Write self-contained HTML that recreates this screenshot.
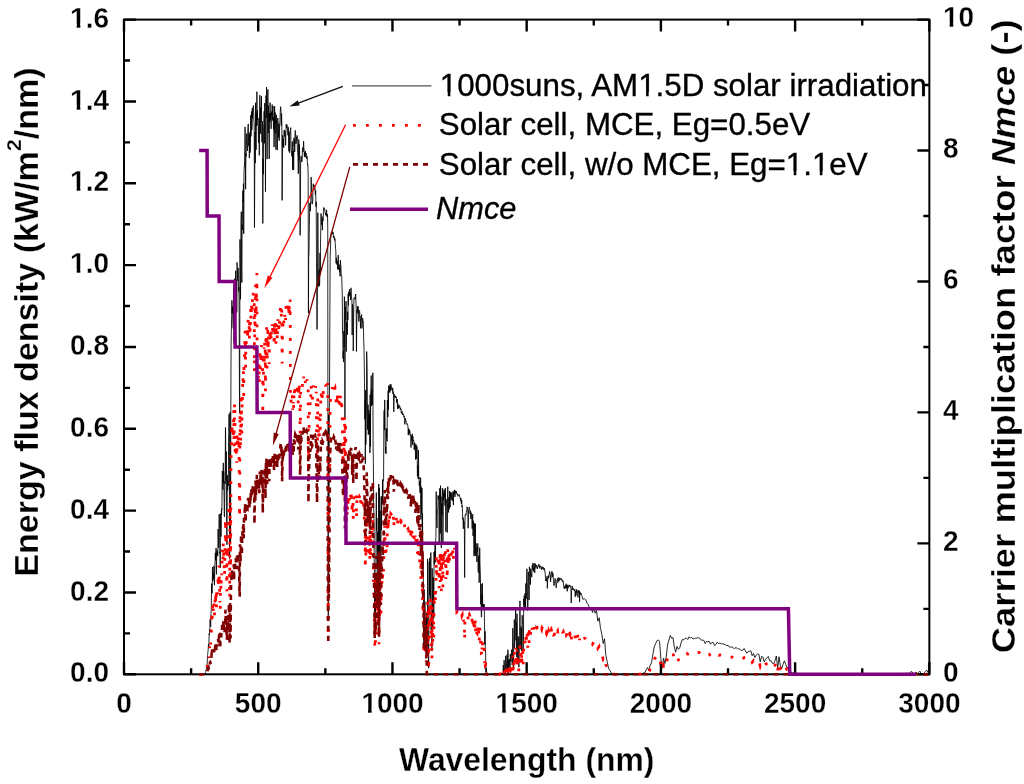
<!DOCTYPE html>
<html><head><meta charset="utf-8"><style>
html,body{margin:0;padding:0;background:#fff;}
svg{display:block;filter:blur(0.6px);}
text{font-family:"Liberation Sans",sans-serif;}
</style></head><body>
<svg width="1024" height="784" viewBox="0 0 1024 784">
<rect width="1024" height="784" fill="#fff"/>
<path d="M124.00 674.30V662.30 M124.00 19.60V31.60 M191.11 674.30V668.30 M191.11 19.60V25.60 M258.23 674.30V662.30 M258.23 19.60V31.60 M325.34 674.30V668.30 M325.34 19.60V25.60 M392.45 674.30V662.30 M392.45 19.60V31.60 M459.56 674.30V668.30 M459.56 19.60V25.60 M526.67 674.30V662.30 M526.67 19.60V31.60 M593.79 674.30V668.30 M593.79 19.60V25.60 M660.90 674.30V662.30 M660.90 19.60V31.60 M728.01 674.30V668.30 M728.01 19.60V25.60 M795.12 674.30V662.30 M795.12 19.60V31.60 M862.24 674.30V668.30 M862.24 19.60V25.60 M929.35 674.30V662.30 M929.35 19.60V31.60 M124.00 674.30H136.00 M124.00 633.38H130.00 M124.00 592.46H136.00 M124.00 551.54H130.00 M124.00 510.62H136.00 M124.00 469.70H130.00 M124.00 428.79H136.00 M124.00 387.87H130.00 M124.00 346.95H136.00 M124.00 306.03H130.00 M124.00 265.11H136.00 M124.00 224.19H130.00 M124.00 183.27H136.00 M124.00 142.35H130.00 M124.00 101.43H136.00 M124.00 60.51H130.00 M124.00 19.60H136.00 M929.35 674.30H917.35 M929.35 608.83H923.35 M929.35 543.36H917.35 M929.35 477.89H923.35 M929.35 412.42H917.35 M929.35 346.95H923.35 M929.35 281.48H917.35 M929.35 216.01H923.35 M929.35 150.54H917.35 M929.35 85.07H923.35 M929.35 19.60H917.35" stroke="#000" stroke-width="2.4" fill="none"/>
<rect x="124.00" y="19.60" width="805.35" height="654.70" fill="none" stroke="#000" stroke-width="2"/>
<polyline points="199.17,674.30 199.30,674.30 199.43,674.30 199.57,674.30 199.70,674.30 199.84,674.30 199.97,674.30 200.11,674.30 200.24,674.30 200.37,674.30 200.51,674.30 200.64,674.30 200.78,674.30 200.91,674.30 201.05,674.30 201.18,674.30 201.31,674.30 201.45,674.30 201.58,674.30 201.72,674.30 201.85,674.30 201.98,674.30 202.12,674.30 202.25,674.30 202.39,674.30 202.52,674.30 202.66,674.30 202.79,674.30 202.92,674.30 203.06,674.30 203.19,674.30 203.33,674.30 203.46,674.29 203.60,674.29 203.73,674.29 203.86,674.27 204.00,674.25 204.13,674.24 204.27,674.22 204.40,674.15 204.54,674.11 204.67,674.07 204.80,673.92 204.94,673.76 205.07,673.70 205.21,673.40 205.34,672.77 205.47,672.33 205.61,672.21 205.74,671.65 205.88,670.64 206.01,670.13 206.15,670.15 206.28,669.57 206.41,668.06 206.55,666.33 206.68,665.81 206.82,664.99 206.95,665.18 207.09,664.61 207.22,662.91 207.35,659.62 207.49,655.73 207.62,655.41 207.76,653.47 207.89,652.30 208.02,650.43 208.16,650.16 208.29,647.59 208.43,645.46 208.56,644.15 208.70,647.77 208.83,646.85 208.96,641.11 209.10,636.24 209.23,633.50 209.37,635.09 209.50,633.36 209.64,629.41 209.77,630.55 209.90,628.16 210.04,619.86 210.17,619.41 210.31,621.85 210.44,624.38 210.58,625.32 210.71,626.74 210.84,619.50 210.98,613.53 211.11,611.01 211.25,610.86 211.38,600.91 211.51,588.91 211.65,583.62 211.78,584.96 211.92,587.20 212.05,593.39 212.19,589.70 212.32,578.97 212.45,568.47 212.59,567.12 212.72,575.67 212.86,580.86 212.99,577.59 213.13,574.02 213.26,573.41 213.39,575.02 213.53,579.10 213.66,576.82 213.80,570.23 213.93,565.96 214.06,568.34 214.20,576.86 214.33,583.87 214.47,585.23 214.60,578.41 214.74,570.69 214.87,565.66 215.00,563.43 215.14,560.35 215.27,552.94 215.41,552.88 215.54,560.01 215.68,560.33 215.81,555.14 215.94,550.33 216.08,548.04 216.21,554.63 216.35,570.56 216.48,574.30 216.62,560.32 216.75,552.52 216.88,555.09 217.02,552.58 217.15,550.24 217.29,554.20 217.42,554.38 217.55,552.02 217.69,556.19 217.82,552.69 217.96,539.62 218.09,529.16 218.23,532.71 218.36,537.68 218.49,540.60 218.63,547.64 218.76,539.37 218.90,525.56 219.03,516.67 219.17,514.54 219.30,514.14 219.43,519.31 219.57,528.52 219.70,537.24 219.84,553.48 219.97,551.75 220.11,559.99 220.24,567.92 220.37,548.88 220.51,522.85 220.64,513.73 220.78,522.22 220.91,534.04 221.04,536.62 221.18,529.65 221.31,515.52 221.45,510.60 221.58,514.74 221.72,508.69 221.85,509.89 221.98,503.22 222.12,485.62 222.25,471.72 222.39,470.96 222.52,474.33 222.66,477.72 222.79,488.86 222.92,489.73 223.06,480.98 223.19,466.20 223.33,462.89 223.46,482.81 223.59,479.41 223.73,471.39 223.86,484.00 224.00,492.66 224.13,499.03 224.27,516.02 224.40,516.14 224.53,517.03 224.67,506.18 224.80,488.06 224.94,481.09 225.07,483.87 225.21,469.65 225.34,445.60 225.47,427.50 225.61,433.32 225.74,459.00 225.88,480.94 226.01,470.72 226.15,455.81 226.28,451.60 226.41,473.24 226.55,502.61 226.68,525.51 226.82,540.71 226.95,544.76 227.08,524.17 227.22,493.28 227.35,475.28 227.49,483.83 227.62,490.23 227.76,482.60 227.89,480.58 228.02,483.08 228.16,484.64 228.29,485.68 228.43,469.21 228.56,446.64 228.70,435.10 228.83,432.72 228.96,418.01 229.10,413.99 229.23,434.29 229.37,473.96 229.50,529.03 229.64,558.61 229.77,523.80 229.90,466.39 230.04,428.39 230.17,412.01 230.31,443.34 230.44,506.12 230.57,543.84 230.71,481.36 230.84,412.65 230.98,364.86 231.11,345.28 231.25,334.75 231.38,330.63 231.65,315.48 231.92,300.35 232.19,313.35 232.45,306.65 232.72,314.83 232.99,322.90 233.26,328.35 233.53,312.22 233.80,286.73 234.06,343.22 234.33,302.88 234.60,278.67 234.87,293.95 235.14,297.30 235.41,283.24 235.68,270.72 235.94,279.87 236.21,296.24 236.48,280.03 236.75,312.30 237.02,262.37 237.29,267.16 237.55,279.30 237.82,280.73 238.09,267.93 238.36,278.75 238.63,291.50 238.90,287.10 239.17,315.17 239.43,387.32 239.70,413.32 239.97,239.41 240.24,269.00 240.51,299.27 240.78,262.25 241.04,221.69 241.31,211.67 241.58,267.70 241.85,282.49 242.12,224.48 242.39,229.96 242.65,198.00 242.92,190.51 243.19,202.22 243.46,183.60 243.73,233.77 244.00,172.76 244.27,166.00 244.53,166.54 244.80,147.22 245.07,126.97 245.34,149.64 245.61,189.25 245.88,153.40 246.14,156.47 246.41,138.75 246.68,133.64 246.95,144.56 247.22,148.12 247.49,150.91 247.76,131.92 248.02,126.31 248.29,123.86 248.56,140.10 248.83,146.24 249.10,134.58 249.37,158.07 249.63,135.07 249.90,132.25 250.17,152.62 250.44,143.38 250.71,115.31 250.98,136.46 251.25,129.91 251.51,111.46 251.78,130.12 252.05,126.31 252.32,108.02 252.59,118.37 252.86,108.59 253.12,108.14 253.39,105.57 253.66,111.99 253.93,122.22 254.20,123.65 254.47,227.55 254.74,173.66 255.00,132.04 255.27,163.14 255.54,102.74 255.81,124.55 256.08,149.80 256.35,112.93 256.61,125.90 256.88,91.70 257.15,119.93 257.42,110.11 257.69,125.13 257.96,124.80 258.23,126.35 258.49,142.76 258.76,142.72 259.03,117.92 259.30,155.37 259.57,117.88 259.84,95.17 260.10,119.93 260.37,133.76 260.64,107.57 260.91,122.02 261.18,111.54 261.45,96.32 261.71,131.02 261.98,142.23 262.25,126.60 262.52,121.32 262.79,223.50 263.06,158.52 263.33,174.19 263.59,128.07 263.86,123.86 264.13,111.25 264.40,143.34 264.67,102.99 264.94,107.20 265.20,122.75 265.47,191.66 265.74,121.57 266.01,95.62 266.28,117.88 266.55,87.19 266.82,97.59 267.08,159.13 267.35,122.26 267.62,113.67 267.89,89.49 268.16,132.98 268.43,105.69 268.69,119.52 268.96,138.42 269.23,158.93 269.50,113.14 269.77,122.18 270.04,102.62 270.31,115.47 270.57,120.42 270.84,113.01 271.11,128.81 271.38,111.58 271.65,115.84 271.92,116.21 272.18,104.58 272.45,120.54 272.72,109.54 272.99,106.22 273.26,115.71 273.53,129.22 273.80,117.27 274.06,147.06 274.33,137.52 274.60,106.14 274.87,133.15 275.14,112.44 275.41,123.28 275.67,119.64 275.94,149.60 276.21,114.81 276.48,119.68 276.75,133.02 277.02,132.53 277.28,150.13 277.55,120.50 277.82,118.01 278.09,120.79 278.36,133.15 278.63,137.52 278.90,123.86 279.16,140.72 279.43,132.94 279.70,123.73 279.97,121.16 280.24,112.52 280.51,106.67 280.77,107.78 281.04,112.20 281.31,125.62 281.58,113.38 281.85,125.86 282.12,200.38 282.39,170.34 282.65,135.36 282.92,146.44 283.19,138.83 283.46,141.17 283.73,147.67 284.00,131.71 284.26,129.95 284.53,136.54 284.80,136.42 285.07,130.98 285.34,137.32 285.61,145.30 285.88,133.96 286.14,124.39 286.41,125.25 286.68,127.91 286.95,124.59 287.22,126.31 287.49,130.40 287.75,132.66 288.02,135.40 288.29,127.21 288.56,134.91 288.83,151.23 289.10,131.96 289.37,146.20 289.63,152.83 289.90,133.02 290.17,130.40 290.44,130.12 290.71,127.66 290.98,147.18 291.24,150.82 291.51,152.54 291.78,155.98 292.05,156.47 292.32,141.45 292.59,169.85 292.86,152.26 293.12,159.17 293.39,150.58 293.66,169.89 293.93,137.85 294.20,146.16 294.47,139.69 294.73,151.85 295.00,134.01 295.27,130.40 295.54,132.61 295.81,143.91 296.08,143.58 296.34,142.56 296.61,137.03 296.88,139.32 297.15,135.40 297.42,150.66 297.69,152.83 297.96,157.70 298.22,173.70 298.49,171.04 298.76,139.45 299.03,160.44 299.30,144.40 299.57,150.25 299.83,174.27 300.10,235.36 300.37,215.27 300.64,161.18 300.91,159.29 301.18,155.94 301.45,157.98 301.71,162.08 301.98,161.22 302.25,156.80 302.52,147.63 302.79,148.08 303.06,151.89 303.32,150.13 303.59,141.04 303.86,148.37 304.13,149.35 304.40,156.63 304.67,152.17 304.94,152.91 305.20,157.12 305.47,151.11 305.74,155.90 306.01,153.11 306.28,157.53 306.55,156.67 306.81,158.68 307.08,156.18 307.35,161.75 307.62,165.06 307.89,164.69 308.16,176.15 308.43,313.05 308.69,257.13 308.96,254.47 309.23,234.58 309.50,215.97 309.77,203.08 310.04,205.94 310.30,211.18 310.57,202.18 310.84,203.20 311.11,177.09 311.38,184.87 311.65,194.69 311.92,198.17 312.18,204.18 312.45,203.73 312.72,200.99 312.99,188.84 313.26,183.72 313.53,186.34 313.79,188.39 314.06,189.86 314.33,188.18 314.60,185.15 314.87,185.97 315.14,189.16 315.40,194.77 315.67,190.51 315.94,206.68 316.21,201.77 316.48,261.80 316.75,290.18 317.02,329.46 317.28,306.27 317.55,269.34 317.82,212.69 318.09,247.80 318.36,280.23 318.63,286.63 318.89,270.68 319.16,269.25 319.43,285.70 319.70,283.51 319.97,253.08 320.24,274.51 320.51,243.83 320.77,228.24 321.04,213.51 321.31,220.06 321.58,224.44 321.85,225.09 322.12,216.66 322.38,230.12 322.65,219.32 322.92,221.00 323.19,220.75 323.46,211.26 323.73,207.50 324.00,207.66 324.26,208.60 324.53,208.27 324.80,210.97 325.07,212.49 325.34,213.02 325.61,215.03 325.87,213.35 326.14,215.60 326.41,209.75 326.68,211.06 326.95,216.62 327.22,216.99 327.49,214.12 327.75,226.97 328.02,573.16 328.29,615.67 328.56,414.50 328.83,530.20 329.10,470.18 329.36,414.97 329.63,367.08 329.90,307.77 330.17,256.03 330.44,250.91 330.71,238.68 330.97,235.81 331.24,232.29 331.51,232.50 331.78,232.37 332.05,232.33 332.32,231.27 332.59,233.85 332.85,234.26 333.12,232.25 333.39,237.00 333.66,238.02 333.93,235.89 334.20,237.61 334.46,240.48 334.73,238.55 335.00,238.27 335.27,243.42 335.54,248.78 335.81,250.42 336.08,263.27 336.34,257.79 336.61,261.67 336.88,264.50 337.15,260.98 337.42,262.41 337.69,269.26 337.95,262.78 338.22,255.08 338.49,263.15 338.76,269.78 339.03,265.20 339.30,264.66 339.57,272.12 339.83,267.35 340.10,276.28 340.37,260.12 340.64,264.37 340.91,265.75 341.18,275.94 341.44,275.39 341.71,276.27 341.98,286.05 342.25,292.79 342.52,331.89 342.79,334.97 343.06,358.52 343.32,351.11 343.59,362.09 343.86,331.22 344.13,347.36 344.40,296.65 344.67,313.88 344.93,418.25 345.20,319.86 345.47,307.04 345.74,320.23 346.01,301.21 346.28,351.57 346.55,321.84 346.81,326.77 347.08,323.76 347.35,334.83 347.62,311.67 347.89,319.91 348.16,294.09 348.42,305.48 348.69,291.74 348.96,295.45 349.23,294.64 349.50,289.15 349.77,291.19 350.03,296.16 350.30,293.05 350.57,300.16 350.84,288.74 351.11,287.83 351.38,298.06 351.65,297.80 351.91,300.11 352.18,335.08 352.45,304.17 352.72,306.27 352.99,307.91 353.26,351.04 353.52,327.53 353.79,304.63 354.06,297.60 354.33,297.46 354.60,297.51 354.87,298.81 355.14,299.29 355.40,296.34 355.67,294.02 355.94,302.12 356.21,308.13 356.48,351.52 356.75,326.22 357.01,309.55 357.28,313.18 357.55,306.30 357.82,311.47 358.09,306.49 358.36,310.12 358.63,316.46 358.89,321.56 359.16,311.66 359.43,310.33 359.70,311.73 359.97,317.72 360.24,316.53 360.50,328.28 360.77,319.18 361.04,320.38 361.31,318.88 361.58,314.57 361.85,328.47 362.12,327.31 362.38,322.81 362.65,318.14 362.92,322.08 363.19,321.35 363.46,327.77 363.73,341.17 363.99,349.35 364.26,363.50 364.53,382.69 364.80,419.33 365.07,399.58 365.34,463.73 365.61,390.20 365.87,444.49 366.14,418.56 366.41,410.44 366.68,351.60 366.95,361.94 367.22,377.63 367.48,429.47 367.75,424.32 368.02,404.59 368.29,434.71 368.56,418.23 368.83,410.34 369.09,433.26 369.36,433.94 369.63,414.26 369.90,452.93 370.17,394.62 370.44,446.74 370.71,391.30 370.97,389.27 371.24,375.57 371.51,405.94 371.78,389.10 372.05,397.81 372.32,401.69 372.58,404.75 372.85,372.79 373.12,447.76 373.39,462.37 373.66,507.85 373.93,516.60 374.20,558.15 374.46,578.31 374.73,618.63 375.00,577.36 375.27,611.83 375.54,611.07 375.81,596.71 376.07,520.48 376.34,492.57 376.61,530.79 376.88,518.02 377.15,566.73 377.42,563.87 377.69,532.19 377.95,598.97 378.22,531.04 378.49,568.27 378.76,483.97 379.03,617.24 379.30,487.86 379.56,570.29 379.83,541.55 380.10,510.67 380.37,542.52 380.64,547.47 380.91,569.58 381.18,496.49 381.44,529.88 381.71,511.91 381.98,496.38 382.25,503.82 382.52,479.59 382.79,497.36 383.05,480.06 383.32,480.44 383.59,480.54 383.86,423.46 384.13,410.45 384.40,430.06 384.66,399.90 384.93,409.84 385.20,440.73 385.47,452.64 385.74,447.05 386.01,453.86 386.28,428.44 386.54,437.37 386.81,428.60 387.08,441.30 387.35,399.91 387.62,407.91 387.89,416.86 388.15,390.77 388.42,409.41 388.69,385.60 388.96,389.96 389.23,391.72 389.50,386.27 389.77,392.60 390.03,384.46 390.30,385.42 390.57,390.63 390.84,384.22 391.11,385.11 391.38,386.19 391.64,389.69 391.91,389.99 392.18,390.10 392.45,391.31 392.72,387.81 392.99,394.01 393.26,391.61 393.52,395.82 393.79,411.85 394.06,399.95 394.33,394.16 394.60,394.39 394.87,397.11 395.13,397.30 395.40,395.91 395.67,397.41 395.94,397.87 396.21,396.67 396.48,401.47 396.75,400.24 397.01,403.26 397.28,399.07 397.55,408.82 397.82,404.89 398.09,403.80 398.36,408.41 398.62,406.32 398.89,408.01 399.16,405.35 399.43,405.77 399.70,407.03 399.97,406.70 400.24,409.61 400.50,407.95 400.77,409.15 401.04,408.93 401.31,413.44 401.58,411.86 401.85,410.99 402.11,411.10 402.38,413.79 402.65,415.03 402.92,413.23 403.19,415.01 403.46,414.96 403.72,414.85 403.99,417.44 404.26,416.24 404.53,417.69 404.80,424.37 405.07,420.57 405.34,418.31 405.60,419.76 405.87,421.41 406.14,421.17 406.41,422.70 406.68,423.46 406.95,424.50 407.21,423.70 407.48,424.47 407.75,425.06 408.02,427.62 408.29,435.12 408.56,428.49 408.83,434.13 409.09,429.68 409.36,433.63 409.63,429.92 409.90,430.99 410.17,435.62 410.44,434.36 410.70,434.67 410.97,447.49 411.24,440.33 411.51,435.73 411.78,436.18 412.05,440.71 412.32,433.78 412.58,444.93 412.85,436.39 413.12,440.35 413.39,440.75 413.66,440.20 413.93,443.03 414.19,449.36 414.46,446.08 414.73,442.69 415.00,450.17 415.27,444.49 415.54,459.49 415.81,454.63 416.07,444.50 416.34,449.83 416.61,458.84 416.88,446.29 417.15,449.05 417.42,476.18 417.68,465.12 417.95,472.31 418.22,478.99 418.49,450.04 418.76,479.08 419.03,477.23 419.30,485.61 419.56,481.29 419.83,492.16 420.10,493.07 420.37,492.57 420.64,477.62 420.91,519.46 421.17,486.62 421.44,512.60 421.71,513.70 421.98,488.13 422.25,545.11 422.52,513.37 422.78,569.55 423.05,557.37 423.32,576.78 423.59,595.64 423.86,643.13 424.13,589.34 424.40,630.02 424.66,618.81 424.93,601.66 425.20,642.32 425.47,624.15 425.74,631.76 426.01,617.86 426.27,654.09 426.54,612.79 426.81,635.45 427.08,632.84 427.35,646.65 427.62,558.90 427.89,582.81 428.15,614.31 428.42,657.94 428.69,668.24 428.96,623.89 429.23,561.89 429.50,594.80 429.76,557.75 430.03,574.27 430.30,598.66 430.57,586.40 430.84,552.53 431.11,629.93 431.38,617.11 431.64,612.57 431.91,651.09 432.18,568.33 432.45,588.80 432.72,626.64 432.99,594.70 433.25,577.46 433.52,581.16 433.79,618.47 434.06,551.94 434.33,564.49 434.60,551.38 434.87,552.48 435.13,542.69 435.40,562.30 435.67,538.58 435.94,537.58 436.21,491.62 436.48,517.45 436.74,522.57 437.01,527.89 437.28,514.29 437.55,510.55 437.82,509.20 438.09,495.36 438.35,499.37 438.62,496.83 438.89,496.21 439.16,542.57 439.43,497.77 439.70,488.34 439.97,490.00 440.23,533.58 440.50,485.61 440.77,502.23 441.04,496.62 441.31,547.85 441.58,503.04 441.84,510.28 442.11,515.09 442.38,488.04 442.65,496.33 442.92,543.20 443.19,511.91 443.46,493.75 443.72,499.83 443.99,489.46 444.26,496.83 444.53,491.18 444.80,499.69 445.07,505.76 445.33,488.01 445.60,504.79 445.87,531.62 446.14,499.21 446.41,503.52 446.68,503.49 446.95,504.73 447.21,532.54 447.48,503.61 447.75,486.60 448.02,506.35 448.29,504.98 448.56,512.47 448.82,497.26 449.09,509.32 449.36,508.28 449.63,490.97 449.90,504.72 450.17,507.14 450.44,492.17 450.70,496.48 450.97,494.90 451.24,499.83 451.51,495.39 451.78,492.57 452.05,497.96 452.31,500.80 452.58,499.22 452.85,493.68 453.12,491.41 453.39,505.06 453.66,492.03 453.93,491.77 454.19,494.55 454.46,489.89 454.73,492.11 455.00,496.88 455.27,490.60 455.54,492.58 455.80,491.00 456.07,493.20 456.34,491.42 456.61,493.46 456.88,494.21 457.15,493.72 457.41,493.52 457.68,495.43 457.95,496.31 458.22,495.80 458.49,494.66 458.76,495.42 459.03,494.96 459.29,494.54 459.56,495.55 459.83,497.28 460.10,497.91 460.37,499.15 460.64,500.74 460.90,497.99 461.17,502.05 461.44,503.95 461.71,500.19 461.98,507.07 462.25,505.57 462.52,513.20 462.78,519.35 463.05,517.58 463.32,528.76 463.59,519.34 463.86,523.39 464.13,522.25 464.39,529.14 464.66,577.50 464.93,522.54 465.20,514.46 465.47,514.25 465.74,515.23 466.01,515.27 466.27,512.85 466.54,511.05 466.81,509.84 467.08,506.88 467.35,508.06 467.62,509.04 467.88,512.45 468.15,528.24 468.42,514.81 468.69,509.53 468.96,508.26 469.23,507.03 469.50,508.97 469.76,509.84 470.03,513.92 470.30,512.58 470.57,510.61 470.84,519.03 471.11,512.65 471.37,515.91 471.64,515.53 471.91,521.58 472.18,528.70 472.45,520.71 472.72,514.20 472.99,535.77 473.25,532.20 473.52,520.69 473.79,538.46 474.06,556.25 474.33,523.79 474.60,523.50 474.86,554.15 475.13,538.13 475.40,523.63 475.67,556.01 475.94,543.31 476.21,543.42 476.47,551.18 476.74,561.00 477.01,561.99 477.28,546.99 477.55,551.67 477.82,543.42 478.09,568.72 478.35,572.56 478.62,556.93 478.89,555.54 479.16,582.70 479.43,571.06 479.70,547.68 479.96,564.00 480.23,569.58 480.50,582.01 480.77,604.34 481.04,584.07 481.31,617.21 481.58,616.83 481.84,594.32 482.11,607.59 482.38,583.28 482.65,602.00 482.92,609.44 483.19,604.12 483.45,604.60 483.72,607.95 483.99,607.12 484.26,604.13 484.53,624.14 484.80,644.42 485.07,631.25 485.33,651.31 485.60,650.54 485.87,672.42 486.14,667.91 486.41,667.96 486.68,672.47 486.94,673.70 487.21,674.26 487.48,674.19 487.75,674.30 488.02,674.28 488.29,674.27 488.56,674.30 488.82,674.30 489.09,674.30 489.36,674.30 489.63,674.30 489.90,674.30 490.17,674.30 490.43,674.30 490.70,674.29 490.97,674.30 491.24,674.30 491.51,674.30 491.78,674.30 492.04,674.30 492.31,674.30 492.58,674.28 492.85,674.23 493.12,674.17 493.39,674.20 493.66,674.25 493.92,673.86 494.19,674.28 494.46,674.27 494.73,674.30 495.00,674.30 495.27,674.30 495.53,674.30 495.80,674.30 496.07,674.30 496.34,674.22 496.61,674.30 496.88,674.07 497.15,674.10 497.41,674.16 497.68,674.29 497.95,674.25 498.22,674.27 498.49,674.30 498.76,674.30 499.02,674.28 499.29,673.80 499.56,673.98 499.83,674.30 500.10,674.30 500.37,673.57 500.64,673.35 500.90,674.01 501.17,674.30 501.44,673.49 501.71,674.23 501.98,673.64 502.25,674.05 502.51,674.11 502.78,673.46 503.05,673.25 503.32,665.02 503.59,674.16 503.86,674.23 504.13,660.16 504.39,669.62 504.66,668.91 504.93,673.45 505.20,671.01 505.47,670.65 505.74,655.88 506.00,670.63 506.27,667.54 506.54,664.01 506.81,663.24 507.08,654.59 507.35,672.48 507.62,659.17 507.88,649.78 508.15,654.33 508.42,673.30 508.69,660.03 508.96,665.95 509.23,665.77 509.49,659.03 509.76,662.40 510.03,669.02 510.30,653.97 510.57,658.53 510.84,661.63 511.10,659.83 511.37,656.35 511.64,649.69 511.91,654.48 512.18,665.10 512.45,659.87 512.72,628.25 512.98,633.64 513.25,663.38 513.52,669.81 513.79,649.45 514.06,641.65 514.33,619.53 514.59,647.94 514.86,639.05 515.13,627.71 515.40,619.99 515.67,609.40 515.94,640.27 516.21,638.34 516.47,622.30 516.74,657.07 517.01,613.86 517.28,637.10 517.55,648.32 517.82,659.93 518.08,643.64 518.35,636.51 518.62,654.50 518.89,667.18 519.16,655.65 519.43,646.32 519.70,635.52 519.96,600.83 520.23,646.89 520.50,646.51 520.77,649.00 521.04,626.51 521.31,650.13 521.57,628.38 521.84,650.99 522.11,615.16 522.38,619.57 522.65,624.51 522.92,625.16 523.19,650.14 523.45,636.80 523.72,598.83 523.99,604.77 524.26,595.65 524.53,608.89 524.80,602.07 525.06,593.30 525.33,601.69 525.60,607.25 525.87,583.47 526.14,598.86 526.41,587.79 526.67,574.71 526.94,568.80 527.21,581.46 527.48,600.76 527.75,610.52 528.02,601.12 528.29,571.90 528.55,572.91 528.82,577.71 529.09,599.95 529.36,566.81 529.63,569.10 529.90,570.71 530.16,577.96 530.43,584.56 530.70,568.71 530.97,572.24 531.24,575.22 531.51,574.09 531.78,577.16 532.04,569.19 532.31,565.02 532.58,569.48 532.85,563.03 533.12,564.87 533.39,571.43 533.65,568.00 533.92,570.09 534.19,563.32 534.46,566.03 534.73,572.87 535.00,567.09 535.27,563.66 535.53,564.15 535.80,567.41 536.07,568.22 536.34,565.13 536.61,565.63 536.88,566.16 537.14,565.79 537.41,568.99 537.68,567.33 537.95,567.24 538.22,566.11 538.49,566.10 538.76,564.14 539.02,565.03 539.29,565.71 539.56,568.24 539.83,565.59 540.10,566.99 540.37,566.71 540.63,566.21 540.90,566.41 541.17,569.03 541.44,567.89 541.71,569.67 541.98,566.68 542.25,567.53 542.51,567.69 542.78,568.64 543.05,566.92 543.32,567.90 543.59,568.25 543.86,569.85 544.12,568.01 544.39,569.93 544.66,569.69 544.93,572.01 545.20,573.08 545.47,578.15 545.73,580.80 546.00,579.74 546.27,581.21 546.54,578.29 546.81,578.98 547.08,576.18 547.35,588.39 547.61,580.78 547.88,580.17 548.15,577.03 548.42,575.42 548.69,578.11 548.96,575.89 549.22,575.30 549.49,571.45 549.76,572.67 550.03,573.73 550.30,574.51 550.57,581.96 550.84,578.20 551.10,578.13 551.37,574.04 551.64,571.63 551.91,572.45 552.18,571.66 552.45,577.11 552.71,576.16 552.98,573.26 553.25,578.10 553.52,579.64 553.79,585.54 554.06,585.18 554.33,585.24 554.59,583.47 554.86,580.15 555.13,578.33 555.40,581.67 555.67,582.87 555.94,583.92 556.20,587.77 556.47,584.12 556.74,582.55 557.01,579.99 557.28,579.52 557.55,578.47 557.82,582.66 558.08,581.01 558.35,577.49 558.62,578.49 558.89,581.07 559.16,581.15 559.43,579.85 559.69,577.90 559.96,577.80 560.23,579.74 560.50,578.98 560.77,578.56 561.04,578.36 561.31,578.32 561.57,580.25 561.84,579.63 562.11,579.57 562.38,581.77 562.65,581.71 562.92,581.36 563.18,580.68 563.45,584.02 563.72,586.76 563.99,586.69 564.26,588.73 564.53,586.95 564.79,586.46 565.06,588.62 565.33,585.37 565.60,587.49 565.87,587.77 566.14,583.73 566.41,588.14 566.67,587.30 566.94,584.68 567.21,591.31 567.48,585.28 567.75,585.67 568.02,588.41 568.28,585.84 568.55,586.35 568.82,585.86 569.09,584.81 569.36,586.27 569.63,585.42 569.90,585.20 570.16,587.09 570.43,585.79 570.70,586.33 570.97,589.98 571.24,603.06 571.51,590.41 571.77,588.86 572.04,588.62 572.31,586.03 572.58,587.17 572.85,590.08 573.12,588.16 573.39,588.36 573.65,589.22 573.92,590.07 574.19,589.73 574.46,590.97 574.73,589.43 575.00,592.39 575.26,596.82 575.53,593.16 575.80,591.00 576.07,595.40 576.34,589.34 576.61,590.51 576.88,592.66 577.14,590.56 577.41,591.73 577.68,592.50 577.95,597.34 578.22,591.75 578.49,590.06 578.75,592.67 579.02,590.71 579.29,590.89 579.56,602.08 579.83,591.61 580.10,592.36 580.37,594.66 580.90,592.98 581.71,595.43 583.05,599.35 584.39,598.64 585.73,599.70 587.08,603.24 588.42,604.82 589.76,609.82 591.10,607.17 592.45,612.49 593.79,608.17 595.13,613.20 596.47,610.43 597.81,621.24 599.16,617.70 600.50,628.42 601.84,634.14 603.18,643.53 604.53,638.77 605.87,655.53 607.21,661.57 608.55,668.37 609.89,670.42 611.24,672.99 612.58,673.90 613.92,673.79 615.26,674.30 616.61,674.30 617.95,674.30 619.29,674.30 620.63,674.30 621.97,674.30 623.32,674.30 624.66,674.29 626.00,674.30 627.34,674.30 628.69,674.27 630.03,674.28 631.37,674.21 632.71,674.25 634.06,674.30 635.40,674.30 636.74,674.29 638.08,674.29 639.42,674.12 640.77,673.92 642.11,674.08 643.45,672.85 644.79,672.98 646.14,669.92 647.48,667.56 648.82,670.25 650.16,665.47 651.50,662.80 652.85,654.64 654.19,646.99 655.53,643.92 656.87,640.90 658.22,639.88 659.56,641.65 660.90,658.96 662.24,668.27 663.58,658.31 664.93,663.58 666.27,656.20 667.61,644.52 668.95,640.15 670.30,635.51 671.64,638.15 672.98,637.62 674.32,646.93 675.66,652.17 677.01,646.41 678.35,649.35 679.69,647.82 681.03,643.08 682.38,639.30 683.72,639.99 685.06,638.38 686.40,638.12 687.75,639.57 689.09,636.75 690.43,638.16 691.77,637.35 693.11,638.99 694.46,638.58 695.80,638.12 697.14,638.01 698.48,637.72 699.83,638.24 701.17,640.19 702.51,640.11 703.85,640.37 705.19,643.54 706.54,641.25 707.88,641.87 709.22,641.32 710.56,644.24 711.91,642.42 713.25,642.45 714.59,645.59 715.93,644.45 717.27,642.31 718.62,643.53 719.96,642.94 721.30,643.86 722.64,643.72 723.99,644.31 725.33,644.78 726.67,645.69 728.01,645.23 729.35,646.94 730.70,647.23 732.04,646.74 733.38,648.06 734.72,648.39 736.07,647.48 737.41,648.77 738.75,648.71 740.09,649.50 741.44,650.49 742.78,650.34 744.12,648.44 745.46,650.76 746.80,653.23 748.15,651.54 749.49,651.29 750.83,650.83 752.17,655.74 753.52,653.48 754.86,657.48 756.20,655.07 757.54,653.95 758.88,654.29 760.23,661.81 761.57,656.42 762.91,657.06 764.25,661.81 765.60,659.26 766.94,657.85 768.28,656.41 769.62,660.68 770.96,660.59 772.31,663.23 773.65,663.51 774.99,660.88 776.33,656.00 777.68,668.26 779.02,656.74 780.36,665.85 781.70,668.77 783.04,664.20 784.39,660.73 785.73,664.48 787.07,667.49 788.41,667.60 789.76,671.03 791.10,672.02 792.44,672.87 793.78,673.13 795.12,671.42 796.47,673.68 797.81,673.40 799.15,674.09 800.49,674.15 801.84,674.28 803.18,674.30 804.52,674.30 805.86,674.30 807.21,674.30 808.55,674.30 809.89,674.30 811.23,674.30 812.57,674.30 813.92,674.30 815.26,674.30 816.60,674.30 817.94,674.30 819.29,674.30 820.63,674.30 821.97,674.30 823.31,674.30 824.65,674.30 826.00,674.30 827.34,674.30 828.68,674.30 830.02,674.30 831.37,674.30 832.71,674.30 834.05,674.30 835.39,674.30 836.73,674.30 838.08,674.30 839.42,674.30 840.76,674.30 842.10,674.30 843.45,674.30 844.79,674.30 846.13,674.30 847.47,674.30 848.82,674.30 850.16,674.30 851.50,674.30 852.84,674.30 854.18,674.30 855.53,674.30 856.87,674.30 858.21,674.30 859.55,674.30 860.90,674.30 862.24,674.30 863.58,674.30 864.92,674.30 866.26,674.30 867.61,674.30 868.95,674.30 870.29,674.30 871.63,674.30 872.98,674.30 874.32,674.30 875.66,674.30 877.00,674.30 878.34,674.30 879.69,674.30 881.03,674.30 882.37,674.30 883.71,674.30 885.06,674.30 886.40,674.30 887.74,674.28 889.08,674.30 890.42,674.30 891.77,674.29 893.11,674.23 894.45,674.30 895.79,674.14 897.14,674.20 898.48,674.11 899.82,674.22 901.16,673.20 902.51,673.96 903.85,674.25 905.19,673.17 906.53,673.78 907.87,673.10 909.22,673.85 910.56,671.86 911.90,671.61 913.24,673.63 914.59,673.70 915.93,672.13 917.27,673.33 918.61,672.40 919.95,671.22 921.30,674.15 922.64,673.95 923.98,673.75 925.32,671.42 926.67,670.04 928.01,672.53 929.35,671.05" fill="none" stroke="#000" stroke-width="0.85" stroke-linejoin="miter"/>
<polyline points="199.17,674.30 199.30,674.30 199.43,674.30 199.57,674.30 199.70,674.30 199.84,674.30 199.97,674.30 200.11,674.30 200.24,674.30 200.37,674.30 200.51,674.30 200.64,674.30 200.78,674.30 200.91,674.30 201.05,674.30 201.18,674.30 201.31,674.30 201.45,674.30 201.58,674.30 201.72,674.30 201.85,674.30 201.98,674.30 202.12,674.30 202.25,674.30 202.39,674.30 202.52,674.30 202.66,674.30 202.79,674.30 202.92,674.30 203.06,674.30 203.19,674.30 203.33,674.30 203.46,674.30 203.60,674.29 203.73,674.29 203.86,674.28 204.00,674.27 204.13,674.26 204.27,674.24 204.40,674.20 204.54,674.18 204.67,674.14 204.80,674.05 204.94,673.94 205.07,673.90 205.21,673.70 205.34,673.27 205.47,672.97 205.61,672.89 205.74,672.51 205.88,671.82 206.01,671.47 206.15,671.47 206.28,671.07 206.41,670.04 206.55,668.85 206.68,668.48 206.82,667.91 206.95,668.02 207.09,667.63 207.22,667.42 207.35,665.42 207.49,663.05 207.62,662.84 207.76,661.64 207.89,660.91 208.02,659.75 208.16,659.56 208.29,657.97 208.43,656.63 208.56,655.80 208.70,658.00 208.83,657.40 208.96,653.84 209.10,650.80 209.23,649.07 209.37,650.02 209.50,648.90 209.64,646.41 209.77,647.07 209.90,645.54 210.04,640.31 210.17,639.98 210.31,641.46 210.44,642.99 210.58,643.53 210.71,644.38 210.84,639.77 210.98,635.95 211.11,634.30 211.25,634.14 211.38,627.77 211.51,620.08 211.65,616.63 211.78,617.39 211.92,618.74 212.05,622.61 212.19,620.17 212.32,613.21 212.45,606.38 212.59,605.41 212.72,610.81 212.86,614.06 212.99,611.85 213.13,609.45 213.26,608.96 213.39,609.90 213.53,612.46 213.66,610.88 213.80,606.49 213.93,603.60 214.06,605.06 214.20,610.53 214.33,615.03 214.47,615.83 214.60,611.26 214.74,606.09 214.87,602.67 215.00,601.09 215.14,598.95 215.27,593.93 215.41,593.77 215.54,598.38 215.68,598.49 215.81,594.92 215.94,591.60 216.08,589.94 216.21,594.23 216.35,604.79 216.48,607.20 216.62,597.71 216.75,592.35 216.88,593.96 217.02,592.15 217.15,590.45 217.29,593.01 217.42,593.01 217.55,591.29 217.69,594.01 217.82,591.51 217.96,582.49 218.09,575.21 218.23,577.50 218.36,580.76 218.49,582.63 218.63,587.33 218.76,581.52 218.90,571.88 219.03,565.61 219.17,579.74 219.30,579.38 219.43,582.31 219.57,587.65 219.70,592.72 219.84,602.29 219.97,601.15 220.11,605.98 220.24,610.63 220.37,599.13 220.51,583.40 220.64,577.79 220.78,582.76 220.91,589.76 221.04,591.20 221.18,586.88 221.31,578.20 221.45,575.09 221.58,577.47 221.72,573.66 221.85,574.25 221.98,570.04 222.12,559.16 222.25,550.51 222.39,549.88 222.52,551.77 222.66,553.69 222.79,560.36 222.92,560.75 223.06,555.20 223.19,545.92 223.33,543.70 223.46,555.85 223.59,553.58 223.73,548.45 223.86,556.11 224.00,561.34 224.13,565.15 224.27,575.60 224.40,575.54 224.53,575.96 224.67,569.04 224.80,557.54 224.94,553.01 225.07,554.60 225.21,545.49 225.34,530.16 225.47,518.55 225.61,522.02 225.74,538.07 225.88,551.79 226.01,545.14 226.15,535.50 226.28,532.64 226.41,546.24 226.55,564.80 226.68,579.28 226.82,588.87 226.95,591.36 227.08,578.05 227.22,558.09 227.35,546.37 227.49,551.71 227.62,555.68 227.76,550.60 227.89,549.13 228.02,550.59 228.16,551.44 228.29,551.96 228.43,541.10 228.56,526.25 228.70,518.55 228.83,516.80 228.96,506.99 229.10,504.15 229.23,517.22 229.37,543.01 229.50,578.98 229.64,598.30 229.77,575.30 229.90,537.36 230.04,512.13 230.17,501.10 230.31,521.60 230.44,562.97 230.57,587.83 230.71,546.26 230.84,500.43 230.98,468.42 231.11,455.12 231.25,447.83 231.38,444.78 231.65,434.07 231.92,423.32 232.19,431.44 232.45,426.32 232.72,431.24 232.99,436.10 233.26,439.22 233.53,427.65 233.80,409.64 234.06,447.67 234.33,419.43 234.60,402.16 234.87,412.04 235.14,457.15 235.41,448.51 235.68,440.72 235.94,445.46 236.21,454.43 236.48,444.46 236.75,462.77 237.02,433.01 237.29,435.26 237.55,441.84 237.82,442.13 238.09,434.01 238.36,439.86 238.63,446.88 238.90,443.73 239.17,459.95 239.43,502.61 239.70,517.80 239.97,412.91 240.24,430.13 240.51,447.84 240.78,424.92 241.04,399.75 241.31,393.02 241.58,426.52 241.85,434.99 242.12,398.93 242.39,401.67 242.65,381.40 242.92,376.12 243.19,382.68 243.46,370.49 243.73,400.94 244.00,362.38 244.27,357.48 244.53,357.10 244.80,344.30 245.07,330.86 245.34,344.35 245.61,368.59 245.88,345.27 246.14,346.49 246.41,334.53 246.68,330.53 246.95,336.74 247.22,338.28 247.49,339.33 247.76,326.42 248.02,322.06 248.29,319.72 248.56,329.44 248.83,332.67 249.10,324.37 249.37,338.88 249.63,323.19 249.90,320.60 250.17,333.17 250.44,326.38 250.71,307.21 250.98,320.35 251.25,315.29 251.51,302.33 251.78,313.91 252.05,310.63 252.32,297.70 252.59,303.81 252.86,296.51 253.12,295.42 253.39,292.90 253.66,296.43 253.93,302.53 254.20,302.73 254.47,372.22 254.74,335.08 255.00,306.13 255.27,326.53 255.54,284.65 255.81,298.75 256.08,315.27 256.35,289.25 256.61,297.38 256.88,273.06 257.15,368.25 257.42,362.20 257.69,369.89 257.96,369.10 258.23,369.36 258.49,377.90 258.76,377.28 259.03,362.81 259.30,383.19 259.57,361.54 259.84,348.13 260.10,361.46 260.37,368.66 260.64,353.23 260.91,360.79 261.18,354.22 261.45,344.92 261.71,364.09 261.98,369.90 262.25,360.35 262.52,356.71 262.79,414.89 263.06,376.92 263.33,385.40 263.59,358.15 263.86,355.10 264.13,347.16 264.40,365.21 264.67,341.09 264.94,342.92 265.20,351.39 265.47,391.20 265.74,349.46 266.01,333.57 266.28,346.06 266.55,327.30 266.82,332.80 267.08,368.67 267.35,346.19 267.62,340.46 267.89,325.40 268.16,350.75 268.43,333.81 268.69,341.47 268.96,352.21 269.23,363.96 269.50,335.77 269.77,340.61 270.04,328.15 270.31,335.31 270.57,337.69 270.84,332.57 271.11,341.58 271.38,330.44 271.65,332.42 271.92,332.03 272.18,324.27 272.45,333.45 272.72,326.05 272.99,323.37 273.26,328.62 273.53,336.37 273.80,328.34 274.06,346.25 274.33,339.72 274.60,319.53 274.87,335.79 275.14,322.21 275.41,328.40 275.67,325.49 275.94,343.74 276.21,321.21 276.48,323.67 276.75,331.50 277.02,330.58 277.28,341.16 277.55,321.72 277.82,319.51 278.09,320.67 278.36,327.96 278.63,330.17 278.90,320.79 279.16,331.02 279.43,325.42 279.70,318.87 279.97,316.59 280.24,310.38 280.51,305.96 280.77,306.05 281.04,308.30 281.31,316.42 281.58,307.82 281.85,315.36 282.12,363.60 282.39,343.35 282.65,319.78 282.92,326.48 283.19,320.87 283.46,321.82 283.73,325.53 284.00,314.36 284.26,312.59 284.53,316.37 284.80,315.69 285.07,311.45 285.34,315.09 285.61,319.84 285.88,311.64 286.14,304.61 286.41,304.57 286.68,305.76 286.95,302.91 287.22,303.46 287.49,305.62 287.75,306.55 288.02,307.81 288.29,301.63 288.56,306.27 288.83,316.83 289.10,303.06 289.37,312.21 289.63,316.18 289.90,301.98 290.17,299.57 290.44,392.65 290.71,390.92 290.98,400.60 291.24,402.05 291.51,402.51 291.78,403.87 292.05,403.69 292.32,395.40 292.59,409.84 292.86,400.18 293.12,403.39 293.39,398.43 293.66,408.18 293.93,390.83 294.20,394.78 294.47,390.91 294.73,396.92 295.00,386.99 295.27,384.63 295.54,385.35 295.81,390.93 296.08,390.31 296.34,389.32 296.61,385.91 296.88,386.70 297.15,384.13 297.42,391.92 297.69,392.65 297.96,394.85 298.22,403.09 298.49,401.22 298.76,383.64 299.03,394.62 299.30,385.44 299.57,388.20 299.83,400.89 300.10,433.93 300.37,422.54 300.64,392.45 300.91,390.98 301.18,388.70 301.45,389.40 301.71,391.23 301.98,390.33 302.25,387.45 302.52,381.93 302.79,381.74 303.06,383.42 303.32,382.00 303.59,376.49 303.86,380.14 304.13,380.25 304.40,383.90 304.67,380.96 304.94,380.94 305.20,382.88 305.47,379.06 305.74,381.32 306.01,379.32 306.28,381.39 306.55,380.47 306.81,381.18 307.08,379.32 307.35,382.06 307.62,383.53 307.89,382.89 308.16,389.03 308.43,467.12 308.69,434.71 308.96,432.83 309.23,421.02 309.50,409.92 309.77,402.09 310.04,403.35 310.30,405.99 310.57,400.39 310.84,400.59 311.11,385.00 311.38,389.12 311.65,394.44 311.92,396.07 312.18,399.19 312.45,398.54 312.72,396.54 312.99,389.00 313.26,385.58 313.53,386.72 313.79,387.52 314.06,387.98 314.33,386.59 314.60,384.38 314.87,384.46 315.14,385.95 315.40,388.88 315.67,385.95 315.94,395.19 316.21,391.86 316.48,427.40 316.75,444.07 317.02,467.32 317.28,453.10 317.55,430.56 317.82,396.08 318.09,416.89 318.36,436.13 318.63,439.67 318.89,429.69 319.16,428.48 319.43,438.14 319.70,436.48 319.97,417.61 320.24,430.34 320.51,411.26 320.77,401.36 321.04,391.96 321.31,395.59 321.58,397.90 321.85,397.93 322.12,392.36 322.38,400.29 322.65,393.24 322.92,393.90 323.19,393.37 323.46,387.10 323.73,384.38 324.00,384.09 324.26,384.29 324.53,383.69 324.80,384.99 325.07,385.55 325.34,385.50 325.61,386.37 325.87,384.93 326.14,385.96 326.41,381.90 326.68,382.33 326.95,385.46 327.22,385.31 327.49,383.12 327.75,390.87 328.02,610.14 328.29,637.05 328.56,509.04 328.83,582.51 329.10,544.11 329.36,508.69 329.63,477.85 329.90,439.62 330.17,406.14 330.44,402.51 330.71,394.29 330.97,392.08 331.24,389.45 331.51,389.21 331.78,388.76 332.05,388.37 332.32,387.31 332.59,388.61 332.85,388.51 333.12,386.84 333.39,389.56 333.66,389.86 333.93,388.11 334.20,388.86 334.46,390.38 334.73,388.75 335.00,388.20 335.27,391.22 335.54,394.39 335.81,395.11 336.08,403.23 336.34,399.27 336.61,401.49 336.88,403.02 337.15,400.34 337.42,400.95 337.69,405.16 337.95,400.50 338.22,395.04 338.49,400.06 338.76,404.15 339.03,400.75 339.30,400.05 339.57,404.70 339.83,401.17 340.10,406.83 340.37,395.62 340.64,398.14 340.91,398.73 341.18,405.27 341.44,404.57 341.71,404.83 341.98,411.13 342.25,415.38 342.52,441.62 342.79,443.44 343.06,459.20 343.32,453.87 343.59,461.11 343.86,439.74 344.13,450.50 344.40,415.47 344.67,426.98 344.93,498.38 345.20,430.50 345.47,421.37 345.74,430.16 346.01,502.59 346.28,525.59 346.55,511.69 346.81,513.77 347.08,512.19 347.35,517.12 347.62,506.19 347.89,509.81 348.16,497.62 348.42,502.70 348.69,496.10 348.96,497.62 349.23,497.03 349.50,494.25 349.77,494.99 350.03,497.11 350.30,495.44 350.57,498.56 350.84,492.98 351.11,492.34 351.38,496.95 351.65,496.62 351.91,497.50 352.18,513.83 352.45,499.01 352.72,499.79 352.99,500.37 353.26,520.66 353.52,509.30 353.79,498.19 354.06,494.64 354.33,494.36 354.60,494.18 354.87,494.59 355.14,494.61 355.40,492.99 355.67,491.66 355.94,495.34 356.21,498.03 356.48,518.74 356.75,506.35 357.01,498.10 357.28,499.66 357.55,496.12 357.82,498.42 358.09,495.81 358.36,497.37 358.63,500.25 358.89,502.53 359.16,497.51 359.43,496.66 359.70,497.14 359.97,499.86 360.24,499.08 360.50,504.65 360.77,499.99 361.04,500.38 361.31,499.45 361.58,497.12 361.85,503.78 362.12,503.01 362.38,500.60 362.65,498.09 362.92,499.84 363.19,499.29 363.46,502.27 363.73,508.74 363.99,512.63 364.26,519.49 364.53,528.89 364.80,547.02 365.07,537.01 365.34,568.95 365.61,532.00 365.87,559.07 366.14,545.92 366.41,541.70 366.68,511.95 366.95,516.98 367.22,524.72 367.48,550.72 367.75,547.98 368.02,537.86 368.29,552.96 368.56,544.47 368.83,540.33 369.09,551.83 369.36,552.04 369.63,541.88 369.90,561.45 370.17,531.57 370.44,558.04 370.71,529.56 370.97,528.36 371.24,521.19 371.51,536.60 371.78,527.80 372.05,532.12 372.32,533.97 372.58,535.39 372.85,518.75 373.12,557.30 373.39,564.73 373.66,588.15 373.93,592.59 374.20,614.05 374.46,624.46 374.73,645.37 375.00,623.86 375.27,641.76 375.54,641.33 375.81,633.80 376.07,593.92 376.34,579.23 376.61,599.15 376.88,592.37 377.15,617.85 377.42,616.29 377.69,599.56 377.95,634.64 378.22,598.80 378.49,618.36 378.76,573.78 379.03,644.13 379.30,575.63 379.56,619.20 379.83,603.89 380.10,587.43 380.37,604.26 380.64,606.82 380.91,618.53 381.18,579.50 381.44,597.22 381.71,587.54 381.98,579.15 382.25,583.03 382.52,569.95 382.79,579.37 383.05,569.99 383.32,570.08 383.59,570.02 383.86,539.17 384.13,532.02 384.40,542.45 384.66,526.02 384.93,531.25 385.20,547.82 385.47,554.15 385.74,550.99 386.01,554.56 386.28,540.62 386.54,545.34 386.81,540.43 387.08,547.23 387.35,524.49 387.62,528.72 387.89,533.46 388.15,519.03 388.42,529.10 388.69,515.88 388.96,518.11 389.23,518.92 389.50,515.77 389.77,519.10 390.03,514.45 390.30,514.82 390.57,517.54 390.84,513.83 391.11,514.17 391.38,514.60 391.64,516.38 391.91,516.39 392.18,516.29 392.45,516.81 392.72,514.70 392.99,518.00 393.26,516.50 393.52,518.70 393.79,527.51 394.06,520.70 394.33,517.30 394.60,517.27 394.87,518.65 395.13,518.60 395.40,517.67 395.67,518.36 395.94,518.46 396.21,517.63 396.48,520.19 396.75,519.34 397.01,520.90 397.28,518.37 397.55,523.75 397.82,521.37 398.09,520.60 398.36,523.07 398.62,521.73 398.89,522.55 399.16,520.88 399.43,520.97 399.70,521.54 399.97,521.20 400.24,522.72 400.50,521.62 400.77,522.16 401.04,521.89 401.31,524.33 401.58,523.28 401.85,522.64 402.11,522.55 402.38,523.96 402.65,524.53 402.92,523.34 403.19,524.23 403.46,524.05 403.72,523.85 403.99,525.20 404.26,524.36 404.53,525.06 404.80,528.81 405.07,526.46 405.34,525.00 405.60,525.70 405.87,526.53 406.14,526.24 406.41,527.00 406.68,527.30 406.95,527.77 407.21,527.17 407.48,527.48 407.75,527.69 408.02,529.05 408.29,533.34 408.56,529.29 408.83,532.49 409.09,529.72 409.36,531.93 409.63,529.59 409.90,530.09 410.17,532.70 410.44,531.82 410.70,531.87 410.97,539.37 411.24,534.98 411.51,532.10 411.78,532.24 412.05,534.81 412.32,530.54 412.58,537.08 412.85,531.84 413.12,534.07 413.39,534.19 413.66,533.73 413.93,535.30 414.19,538.97 414.46,536.88 414.73,534.70 415.00,539.09 415.27,535.53 415.54,544.47 415.81,541.41 416.07,535.16 416.34,538.26 416.61,543.60 416.88,535.86 417.15,537.41 417.42,553.79 417.68,546.94 417.95,551.21 418.22,555.17 418.49,537.39 418.76,555.01 419.03,553.77 419.30,558.79 419.56,556.04 419.83,562.59 420.10,563.05 420.37,562.65 420.64,553.35 420.91,579.00 421.17,558.68 421.44,574.59 421.71,575.18 421.98,559.30 422.25,594.42 422.52,574.71 422.78,609.42 423.05,601.81 423.32,613.79 423.59,625.45 423.86,654.93 424.13,621.44 424.40,646.73 424.66,639.71 424.93,628.98 425.20,654.33 425.47,642.96 425.74,647.69 426.01,638.96 426.27,661.63 426.54,635.72 426.81,649.91 427.08,648.25 427.35,656.91 427.62,601.67 427.89,616.66 428.15,636.47 428.42,663.97 428.69,670.47 428.96,642.43 429.23,603.17 429.50,623.95 429.76,600.42 430.03,610.83 430.30,626.27 430.57,618.44 430.84,596.84 431.11,646.05 431.38,637.86 431.64,634.93 431.91,659.49 432.18,606.60 432.45,619.63 432.72,643.80 432.99,623.31 433.25,612.22 433.52,614.53 433.79,638.45 434.06,595.65 434.33,603.65 434.60,595.15 434.87,595.80 435.13,589.41 435.40,602.00 435.67,586.61 435.94,585.89 436.21,556.06 436.48,572.69 436.74,575.93 437.01,579.29 437.28,570.38 437.55,567.86 437.82,566.89 438.09,557.78 438.35,560.30 438.62,558.55 438.89,558.04 439.16,588.23 439.43,558.86 439.70,552.59 439.97,553.58 440.23,582.04 440.50,550.49 440.77,561.30 441.04,557.52 441.31,591.12 441.58,561.55 441.84,566.23 442.11,569.31 442.38,551.36 442.65,556.73 442.92,587.62 443.19,566.85 443.46,554.73 443.72,558.66 443.99,551.68 444.26,556.47 444.53,552.62 444.80,558.18 445.07,562.12 445.33,550.20 445.60,561.28 445.87,579.09 446.14,557.37 446.41,560.16 446.68,560.04 446.95,560.77 447.21,579.31 447.48,559.83 447.75,548.32 448.02,561.49 448.29,560.47 448.56,565.42 448.82,555.08 449.09,563.11 449.36,562.32 449.63,550.54 449.90,559.73 450.17,561.27 450.44,551.05 450.70,553.86 450.97,552.70 451.24,555.94 451.51,552.82 451.78,550.81 452.05,554.37 452.31,556.21 452.58,555.04 452.85,551.16 453.12,549.51 453.39,558.73 453.66,549.73 453.93,549.45 454.19,551.26 454.46,547.96 454.73,549.38 455.00,552.56 455.27,548.15 455.54,549.40 455.80,548.22 456.07,549.62 456.34,548.30 456.61,549.61 456.88,612.16 457.15,611.94 457.41,611.82 457.68,612.43 457.95,612.69 458.22,612.46 458.49,612.02 458.76,612.23 459.03,612.02 459.29,611.83 459.56,612.13 459.83,612.68 460.10,612.85 460.37,613.23 460.64,613.74 460.90,612.73 461.17,614.10 461.44,614.72 461.71,613.35 461.98,615.71 462.25,615.14 462.52,617.77 462.78,619.89 463.05,619.22 463.32,623.11 463.59,619.75 463.86,621.14 464.13,620.69 464.39,623.08 464.66,640.12 464.93,620.67 465.20,617.77 465.47,617.65 465.74,617.95 466.01,617.92 466.27,617.02 466.54,616.34 466.81,615.86 467.08,614.76 467.35,615.14 467.62,615.44 467.88,616.61 468.15,622.20 468.42,617.36 468.69,615.43 468.96,614.93 469.23,614.44 469.50,615.09 469.76,615.36 470.03,616.78 470.30,616.25 470.57,615.50 470.84,618.48 471.11,616.14 471.37,617.27 471.64,617.09 471.91,619.23 472.18,621.75 472.45,618.82 472.72,616.43 472.99,624.19 473.25,622.86 473.52,618.65 473.79,625.05 474.06,631.47 474.33,619.64 474.60,619.50 474.86,630.60 475.13,624.74 475.40,619.42 475.67,631.18 475.94,626.51 476.21,626.52 476.47,629.32 476.74,632.87 477.01,633.20 477.28,627.68 477.55,629.36 477.82,626.30 478.09,635.55 478.35,636.93 478.62,631.16 478.89,630.61 479.16,640.58 479.43,636.26 479.70,627.62 479.96,633.60 480.23,635.63 480.50,640.19 480.77,648.43 481.04,640.91 481.31,653.16 481.58,653.00 481.84,644.64 482.11,649.54 482.38,640.49 482.65,647.42 482.92,650.17 483.19,648.17 483.45,648.33 483.72,649.56 483.99,649.23 484.26,648.10 484.53,655.55 484.80,663.13 485.07,658.19 485.33,665.69 485.60,665.40 485.87,673.60 486.14,671.90 486.41,671.92 486.68,673.61 486.94,674.07 487.21,674.29 487.48,674.26 487.75,674.30 488.02,674.29 488.29,674.29 488.56,674.30 488.82,674.30 489.09,674.30 489.36,674.30 489.63,674.30 489.90,674.30 490.17,674.30 490.43,674.30 490.70,674.30 490.97,674.30 491.24,674.30 491.51,674.30 491.78,674.30 492.04,674.30 492.31,674.30 492.58,674.29 492.85,674.27 493.12,674.25 493.39,674.26 493.66,674.28 493.92,674.13 494.19,674.29 494.46,674.29 494.73,674.30 495.00,674.30 495.27,674.30 495.53,674.30 495.80,674.30 496.07,674.30 496.34,674.27 496.61,674.30 496.88,674.21 497.15,674.22 497.41,674.25 497.68,674.30 497.95,674.28 498.22,674.29 498.49,674.30 498.76,674.30 499.02,674.29 499.29,674.10 499.56,674.17 499.83,674.30 500.10,674.30 500.37,674.02 500.64,673.93 500.90,674.19 501.17,674.30 501.44,673.98 501.71,674.27 501.98,674.04 502.25,674.20 502.51,674.23 502.78,673.97 503.05,673.89 503.32,670.65 503.59,674.24 503.86,674.27 504.13,668.73 504.39,672.46 504.66,672.17 504.93,673.96 505.20,673.00 505.47,672.86 505.74,667.01 506.00,672.85 506.27,671.62 506.54,670.22 506.81,669.91 507.08,666.47 507.35,673.58 507.62,668.28 507.88,664.54 508.15,666.35 508.42,673.90 508.69,668.61 508.96,670.97 509.23,670.89 509.49,668.20 509.76,669.54 510.03,672.19 510.30,666.16 510.57,667.98 510.84,669.22 511.10,668.49 511.37,667.09 511.64,664.41 511.91,666.33 512.18,670.60 512.45,668.49 512.72,655.75 512.98,657.90 513.25,669.89 513.52,672.49 513.79,664.26 514.06,661.10 514.33,652.14 514.59,663.63 514.86,660.02 515.13,655.41 515.40,652.27 515.67,647.95 515.94,660.48 516.21,659.68 516.47,653.15 516.74,667.29 517.01,649.68 517.28,659.14 517.55,663.70 517.82,668.43 518.08,661.78 518.35,658.85 518.62,666.20 518.89,671.39 519.16,666.66 519.43,662.83 519.70,658.40 519.96,644.15 520.23,663.04 520.50,662.88 520.77,663.90 521.04,654.63 521.31,664.35 521.57,655.38 521.84,664.69 522.11,649.89 522.38,651.70 522.65,653.73 522.92,653.98 523.19,664.30 523.45,658.77 523.72,643.03 523.99,645.47 524.26,641.67 524.53,647.14 524.80,644.29 525.06,640.63 525.33,644.09 525.60,646.39 525.87,636.46 526.14,642.85 526.41,638.22 526.67,632.73 526.94,630.24 527.21,635.50 527.48,643.54 527.75,647.61 528.02,643.65 528.29,631.39 528.55,631.78 528.82,633.77 529.09,643.08 529.36,629.14 529.63,630.07 529.90,630.72 530.16,633.74 530.43,636.50 530.70,629.79 530.97,631.24 531.24,632.48 531.51,631.97 531.78,633.24 532.04,629.84 532.31,628.05 532.58,629.91 532.85,627.15 533.12,627.89 533.39,630.65 533.65,629.16 533.92,630.02 534.19,627.11 534.46,628.23 534.73,631.12 535.00,628.63 535.27,627.13 535.53,627.31 535.80,628.67 536.07,628.99 536.34,627.64 536.61,627.82 536.88,628.02 537.14,627.83 537.41,629.17 537.68,628.43 537.95,628.36 538.22,627.85 538.49,627.81 538.76,626.94 539.02,627.29 539.29,627.56 539.56,628.61 539.83,627.44 540.10,628.01 540.37,627.87 540.63,627.62 540.90,627.68 541.17,628.78 541.44,628.26 541.71,629.00 541.98,627.67 542.25,628.01 542.51,628.05 542.78,628.44 543.05,627.66 543.32,628.05 543.59,628.18 543.86,628.85 544.12,628.01 544.39,628.82 544.66,628.68 544.93,629.67 545.20,630.11 545.47,632.30 545.73,633.43 546.00,632.94 546.27,633.55 546.54,632.25 546.81,632.53 547.08,631.27 547.35,636.60 547.61,633.24 547.88,632.94 548.15,631.53 548.42,630.80 548.69,631.96 548.96,630.95 549.22,630.66 549.49,628.94 549.76,629.45 550.03,629.89 550.30,630.20 550.57,633.47 550.84,631.78 551.10,631.72 551.37,629.89 551.64,628.79 551.91,629.13 552.18,628.75 552.45,631.14 552.71,630.69 552.98,629.37 553.25,631.49 553.52,632.16 553.79,634.76 554.06,634.57 554.33,634.57 554.59,633.76 554.86,632.25 555.13,631.41 555.40,632.88 555.67,633.39 555.94,633.83 556.20,635.54 556.47,633.87 556.74,633.15 557.01,631.97 557.28,631.73 557.55,631.23 557.82,633.09 558.08,632.33 558.35,630.71 558.62,631.14 558.89,632.28 559.16,632.28 559.43,631.67 559.69,630.76 559.96,630.69 560.23,631.54 560.50,631.17 560.77,630.95 561.04,630.84 561.31,630.79 561.57,631.64 561.84,631.33 562.11,631.28 562.38,632.25 562.65,632.20 562.92,632.02 563.18,631.68 563.45,633.17 563.72,634.40 563.99,634.34 564.26,635.25 564.53,634.41 564.79,634.17 565.06,635.13 565.33,633.62 565.60,634.56 565.87,634.67 566.14,632.79 566.41,634.79 566.67,634.38 566.94,633.15 567.21,636.17 567.48,633.38 567.75,633.53 568.02,634.77 568.28,633.56 568.55,633.77 568.82,633.52 569.09,633.01 569.36,633.66 569.63,633.24 569.90,633.12 570.16,633.97 570.43,633.34 570.70,633.57 570.97,635.23 571.24,641.27 571.51,635.39 571.77,634.64 572.04,634.51 572.31,633.28 572.58,633.79 572.85,635.12 573.12,634.20 573.39,634.27 573.65,634.64 573.92,635.02 574.19,634.84 574.46,635.39 574.73,634.65 575.00,636.01 575.26,638.06 575.53,636.32 575.80,635.29 576.07,637.33 576.34,634.46 576.61,634.99 576.88,635.98 577.14,634.97 577.41,635.50 577.68,635.83 577.95,638.09 578.22,635.43 578.49,634.61 578.75,635.82 579.02,634.88 579.29,634.94 579.56,640.20 579.83,635.23 580.10,635.56 580.37,636.62 580.90,635.79 581.71,636.88 583.05,638.64 584.39,638.19 585.73,638.60 587.08,640.19 588.42,640.85 589.76,643.17 591.10,641.80 592.45,644.29 593.79,642.10 595.13,644.46 596.47,643.02 597.81,648.24 599.16,646.43 600.50,651.64 601.84,654.41 603.18,659.02 604.53,656.60 605.87,664.93 607.21,667.92 608.55,671.32 609.89,672.35 611.24,673.64 612.58,674.10 613.92,674.04 615.26,674.30 616.61,674.30 617.95,674.30 619.29,674.30 620.63,674.30 621.97,674.30 623.32,674.30 624.66,674.30 626.00,674.30 627.34,674.30 628.69,674.28 630.03,674.29 631.37,674.25 632.71,674.27 634.06,674.30 635.40,674.30 636.74,674.30 638.08,674.30 639.42,674.20 640.77,674.10 642.11,674.18 643.45,673.52 644.79,673.59 646.14,671.93 647.48,670.64 648.82,672.10 650.16,669.49 651.50,668.01 652.85,663.52 654.19,659.29 655.53,657.56 656.87,655.85 658.22,655.24 659.56,656.18 660.90,665.76 662.24,670.93 663.58,665.36 664.93,668.29 666.27,664.12 667.61,657.52 668.95,655.01 670.30,652.33 671.64,653.78 672.98,653.43 674.32,658.69 675.66,661.64 677.01,658.31 678.35,659.97 679.69,659.05 681.03,656.27 682.38,654.04 683.72,654.39 685.06,653.41 686.40,653.21 687.75,654.01 689.09,652.30 690.43,653.08 691.77,652.55 693.11,653.47 694.46,653.18 695.80,652.86 697.14,652.74 698.48,652.52 699.83,652.78 701.17,653.89 702.51,653.80 703.85,653.91 705.19,655.77 706.54,654.34 707.88,654.67 709.22,654.29 710.56,656.02 711.91,654.87 713.25,654.85 714.59,656.72 715.93,655.99 717.27,654.63 718.62,655.34 719.96,654.93 721.30,655.45 722.64,655.33 723.99,655.65 725.33,655.90 726.67,656.43 728.01,656.10 729.35,657.13 730.70,657.28 732.04,656.93 733.38,657.72 734.72,657.90 736.07,657.28 737.41,658.07 738.75,657.99 740.09,658.46 741.44,659.06 742.78,658.94 744.12,657.68 745.46,659.14 746.80,660.70 748.15,659.57 749.49,659.38 750.83,659.05 752.17,662.21 753.52,660.72 754.86,663.30 756.20,661.70 757.54,660.94 758.88,661.13 760.23,666.07 761.57,662.48 762.91,662.88 764.25,666.01 765.60,664.30 766.94,663.34 768.28,662.35 769.62,665.19 770.96,665.11 772.31,666.86 773.65,667.04 774.99,665.24 776.33,661.93 777.68,670.21 779.02,662.37 780.36,668.55 781.70,670.53 783.04,667.40 784.39,665.01 785.73,667.56 787.07,669.62 788.41,669.69 789.76,674.30 791.10,674.30 792.44,674.30 793.78,674.30 795.12,674.30 796.47,674.30 797.81,674.30 799.15,674.30 800.49,674.30 801.84,674.30 803.18,674.30 804.52,674.30 805.86,674.30 807.21,674.30 808.55,674.30 809.89,674.30 811.23,674.30 812.57,674.30 813.92,674.30 815.26,674.30 816.60,674.30 817.94,674.30 819.29,674.30 820.63,674.30 821.97,674.30 823.31,674.30 824.65,674.30 826.00,674.30 827.34,674.30 828.68,674.30 830.02,674.30 831.37,674.30 832.71,674.30 834.05,674.30 835.39,674.30 836.73,674.30 838.08,674.30 839.42,674.30 840.76,674.30 842.10,674.30 843.45,674.30 844.79,674.30 846.13,674.30 847.47,674.30 848.82,674.30 850.16,674.30 851.50,674.30 852.84,674.30 854.18,674.30 855.53,674.30 856.87,674.30 858.21,674.30 859.55,674.30 860.90,674.30 862.24,674.30 863.58,674.30 864.92,674.30 866.26,674.30 867.61,674.30 868.95,674.30 870.29,674.30 871.63,674.30 872.98,674.30 874.32,674.30 875.66,674.30 877.00,674.30 878.34,674.30 879.69,674.30 881.03,674.30 882.37,674.30 883.71,674.30 885.06,674.30 886.40,674.30 887.74,674.30 889.08,674.30 890.42,674.30 891.77,674.30 893.11,674.30 894.45,674.30 895.79,674.30 897.14,674.30 898.48,674.30 899.82,674.30 901.16,674.30 902.51,674.30 903.85,674.30 905.19,674.30 906.53,674.30 907.87,674.30 909.22,674.30 910.56,674.30 911.90,674.30 913.24,674.30 914.59,674.30 915.93,674.30 917.27,674.30 918.61,674.30 919.95,674.30 921.30,674.30 922.64,674.30 923.98,674.30 925.32,674.30 926.67,674.30 928.01,674.30 929.35,674.30" fill="none" stroke="#ff0000" stroke-width="2.8" stroke-dasharray="2.8 10.2"/>
<polyline points="199.17,674.30 199.30,674.30 199.43,674.30 199.57,674.30 199.70,674.30 199.84,674.30 199.97,674.30 200.11,674.30 200.24,674.30 200.37,674.30 200.51,674.30 200.64,674.30 200.78,674.30 200.91,674.30 201.05,674.30 201.18,674.30 201.31,674.30 201.45,674.30 201.58,674.30 201.72,674.30 201.85,674.30 201.98,674.30 202.12,674.30 202.25,674.30 202.39,674.30 202.52,674.30 202.66,674.30 202.79,674.30 202.92,674.30 203.06,674.30 203.19,674.30 203.33,674.30 203.46,674.30 203.60,674.30 203.73,674.30 203.86,674.29 204.00,674.29 204.13,674.29 204.27,674.28 204.40,674.27 204.54,674.26 204.67,674.25 204.80,674.22 204.94,674.19 205.07,674.18 205.21,674.11 205.34,673.98 205.47,673.89 205.61,673.86 205.74,673.74 205.88,673.53 206.01,673.42 206.15,673.42 206.28,673.30 206.41,672.97 206.55,672.60 206.68,672.49 206.82,672.31 206.95,672.35 207.09,672.23 207.22,671.86 207.35,671.15 207.49,670.30 207.62,670.23 207.76,669.80 207.89,669.54 208.02,669.13 208.16,669.06 208.29,668.50 208.43,668.02 208.56,667.73 208.70,668.51 208.83,668.30 208.96,667.03 209.10,665.95 209.23,665.34 209.37,665.67 209.50,665.28 209.64,664.39 209.77,664.63 209.90,664.08 210.04,662.22 210.17,662.11 210.31,662.63 210.44,663.18 210.58,663.37 210.71,663.67 210.84,662.03 210.98,660.67 211.11,660.09 211.25,660.03 211.38,657.77 211.51,655.04 211.65,653.81 211.78,654.08 211.92,654.56 212.05,655.93 212.19,655.07 212.32,652.60 212.45,650.17 212.59,649.82 212.72,651.74 212.86,652.90 212.99,652.11 213.13,651.26 213.26,651.09 213.39,651.42 213.53,652.33 213.66,651.77 213.80,650.21 213.93,649.18 214.06,649.70 214.20,651.64 214.33,653.24 214.47,653.53 214.60,651.90 214.74,650.06 214.87,648.85 215.00,648.29 215.14,647.53 215.27,645.75 215.41,645.69 215.54,647.33 215.68,647.37 215.81,646.10 215.94,644.92 216.08,644.33 216.21,645.85 216.35,649.60 216.48,650.46 216.62,647.09 216.75,645.18 216.88,645.76 217.02,645.11 217.15,644.51 217.29,645.42 217.42,645.42 217.55,644.81 217.69,645.77 217.82,644.89 217.96,641.68 218.09,639.09 218.23,639.91 218.36,641.07 218.49,641.73 218.63,643.40 218.76,641.34 218.90,637.91 219.03,635.68 219.17,635.11 219.30,634.95 219.43,636.17 219.57,638.38 219.70,640.49 219.84,644.45 219.97,643.98 220.11,645.98 220.24,647.91 220.37,643.14 220.51,636.62 220.64,634.30 220.78,636.36 220.91,639.26 221.04,639.86 221.18,638.06 221.31,634.47 221.45,633.18 221.58,634.16 221.72,632.58 221.85,632.83 221.98,631.09 222.12,626.58 222.25,622.99 222.39,622.73 222.52,623.51 222.66,624.31 222.79,627.07 222.92,627.23 223.06,624.93 223.19,621.09 223.33,620.17 223.46,625.20 223.59,624.26 223.73,622.14 223.86,625.31 224.00,627.48 224.13,629.06 224.27,633.39 224.40,633.37 224.53,633.54 224.67,630.67 224.80,625.90 224.94,624.03 225.07,624.68 225.21,620.91 225.34,614.56 225.47,609.74 225.61,611.18 225.74,617.83 225.88,623.52 226.01,620.77 226.15,616.77 226.28,615.58 226.41,621.22 226.55,628.91 226.68,634.92 226.82,638.89 226.95,639.92 227.08,634.41 227.22,626.13 227.35,621.27 227.49,623.49 227.62,625.13 227.76,623.03 227.89,622.42 228.02,623.02 228.16,623.38 228.29,623.59 228.43,619.09 228.56,612.94 228.70,609.74 228.83,609.02 228.96,604.95 229.10,603.77 229.23,609.19 229.37,619.88 229.50,634.79 229.64,642.80 229.77,633.26 229.90,617.54 230.04,607.08 230.17,602.51 230.31,611.01 230.44,628.15 230.57,638.46 230.71,621.23 230.84,602.23 230.98,588.97 231.11,583.45 231.25,580.43 231.38,579.17 231.65,574.73 231.92,570.27 232.19,573.64 232.45,571.51 232.72,573.55 232.99,575.57 233.26,576.86 233.53,572.07 233.80,564.60 234.06,580.36 234.33,568.66 234.60,561.50 234.87,565.59 235.14,566.29 235.41,561.99 235.68,558.12 235.94,560.48 236.21,564.94 236.48,559.98 236.75,569.09 237.02,554.29 237.29,555.40 237.55,558.67 237.82,558.82 238.09,554.78 238.36,557.69 238.63,561.19 238.90,559.62 239.17,567.68 239.43,588.90 239.70,596.46 239.97,544.29 240.24,552.85 240.51,561.66 240.78,550.26 241.04,537.74 241.31,534.39 241.58,551.06 241.85,555.27 242.12,537.33 242.39,538.70 242.65,528.61 242.92,525.99 243.19,529.25 243.46,523.19 243.73,538.33 244.00,519.15 244.27,516.71 244.53,516.53 244.80,510.16 245.07,503.48 245.34,510.19 245.61,522.24 245.88,510.64 246.14,511.25 246.41,505.30 246.68,503.31 246.95,506.40 247.22,507.17 247.49,507.69 247.76,501.27 248.02,499.10 248.29,497.93 248.56,502.77 248.83,504.37 249.10,500.25 249.37,507.47 249.63,499.66 249.90,498.37 250.17,504.62 250.44,501.25 250.71,491.71 250.98,498.25 251.25,495.73 251.51,489.29 251.78,495.04 252.05,493.41 252.32,486.98 252.59,490.02 252.86,486.39 253.12,485.85 253.39,484.60 253.66,486.35 253.93,489.39 254.20,489.49 254.47,524.05 254.74,505.57 255.00,491.17 255.27,501.32 255.54,480.49 255.81,487.50 256.08,495.72 256.35,482.78 256.61,486.83 256.88,474.73 257.15,484.02 257.42,480.25 257.69,485.04 257.96,484.55 258.23,484.70 258.49,490.01 258.76,489.63 259.03,480.63 259.30,493.31 259.57,479.85 259.84,471.51 260.10,479.80 260.37,484.27 260.64,474.68 260.91,479.38 261.18,475.29 261.45,469.51 261.71,481.43 261.98,485.04 262.25,479.10 262.52,476.84 262.79,513.01 263.06,489.41 263.33,494.68 263.59,477.74 263.86,475.84 264.13,470.91 264.40,482.13 264.67,467.13 264.94,468.27 265.20,473.53 265.47,498.28 265.74,472.34 266.01,462.46 266.28,470.22 266.55,458.56 266.82,461.98 267.08,484.28 267.35,470.30 267.62,466.74 267.89,457.38 268.16,473.14 268.43,462.60 268.69,467.37 268.96,474.05 269.23,481.35 269.50,463.82 269.77,466.83 270.04,459.08 270.31,463.54 270.57,465.02 270.84,461.83 271.11,467.43 271.38,460.51 271.65,461.74 271.92,461.50 272.18,456.67 272.45,462.38 272.72,457.78 272.99,456.12 273.26,459.38 273.53,464.19 273.80,459.20 274.06,470.34 274.33,466.28 274.60,453.73 274.87,463.84 275.14,455.39 275.41,459.24 275.67,457.43 275.94,468.78 276.21,454.77 276.48,456.30 276.75,461.17 277.02,460.60 277.28,467.18 277.55,455.09 277.82,453.71 278.09,454.43 278.36,458.97 278.63,460.34 278.90,454.51 279.16,460.87 279.43,457.39 279.70,453.32 279.97,451.90 280.24,448.04 280.51,445.29 280.77,445.34 281.04,446.74 281.31,451.79 281.58,446.44 281.85,451.14 282.12,481.13 282.39,468.54 282.65,453.88 282.92,458.05 283.19,454.56 283.46,455.15 283.73,457.46 284.00,450.51 284.26,449.41 284.53,451.76 284.80,451.34 285.07,448.70 285.34,450.97 285.61,453.92 285.88,448.82 286.14,444.45 286.41,444.43 286.68,445.16 286.95,443.39 287.22,443.73 287.49,445.08 287.75,445.65 288.02,446.44 288.29,442.60 288.56,445.48 288.83,452.05 289.10,443.48 289.37,449.18 289.63,451.64 289.90,442.81 290.17,441.32 290.44,440.82 290.71,439.38 290.98,447.41 291.24,448.61 291.51,448.99 291.78,450.12 292.05,449.97 292.32,443.10 292.59,455.07 292.86,447.06 293.12,449.72 293.39,445.61 293.66,453.69 293.93,439.31 294.20,442.58 294.47,439.37 294.73,444.35 295.00,436.13 295.27,434.16 295.54,434.76 295.81,439.39 296.08,438.88 296.34,438.06 296.61,435.23 296.88,435.88 297.15,433.76 297.42,440.21 297.69,440.82 297.96,442.64 298.22,449.47 298.49,447.92 298.76,433.34 299.03,442.45 299.30,434.84 299.57,437.12 299.83,447.65 300.10,475.04 300.37,465.60 300.64,440.65 300.91,439.43 301.18,437.55 301.45,438.12 301.71,439.64 301.98,438.89 302.25,436.51 302.52,431.93 302.79,431.77 303.06,433.16 303.32,431.99 303.59,427.42 303.86,430.45 304.13,430.54 304.40,433.56 304.67,431.13 304.94,431.11 305.20,432.72 305.47,429.55 305.74,431.43 306.01,429.76 306.28,431.48 306.55,430.72 306.81,431.30 307.08,429.77 307.35,432.04 307.62,433.26 307.89,432.73 308.16,437.81 308.43,502.55 308.69,475.68 308.96,474.12 309.23,464.34 309.50,455.13 309.77,448.64 310.04,449.69 310.30,451.88 310.57,447.23 310.84,447.39 311.11,434.48 311.38,437.89 311.65,442.30 311.92,443.65 312.18,446.24 312.45,445.70 312.72,444.04 312.99,437.79 313.26,434.96 313.53,435.90 313.79,436.56 314.06,436.95 314.33,435.79 314.60,433.96 314.87,434.03 315.14,435.26 315.40,437.69 315.67,435.26 315.94,442.92 316.21,440.16 316.48,469.62 316.75,483.44 317.02,502.72 317.28,490.93 317.55,472.24 317.82,443.66 318.09,460.91 318.36,476.86 318.63,479.80 318.89,471.52 319.16,470.52 319.43,478.53 319.70,477.15 319.97,461.51 320.24,472.06 320.51,456.24 320.77,448.04 321.04,440.24 321.31,443.26 321.58,445.17 321.85,445.19 322.12,440.58 322.38,447.15 322.65,441.31 322.92,441.85 323.19,441.41 323.46,436.22 323.73,433.96 324.00,433.72 324.26,433.88 324.53,433.39 324.80,434.47 325.07,434.93 325.34,434.89 325.61,435.61 325.87,434.42 326.14,435.27 326.41,431.90 326.68,432.26 326.95,434.86 327.22,434.73 327.49,432.91 327.75,439.34 328.02,621.11 328.29,643.42 328.56,537.30 328.83,598.21 329.10,566.38 329.36,537.01 329.63,511.45 329.90,479.75 330.17,452.00 330.44,448.99 330.71,442.17 330.97,440.34 331.24,438.16 331.51,437.96 331.78,437.59 332.05,437.27 332.32,436.39 332.59,437.47 332.85,437.38 333.12,436.00 333.39,438.25 333.66,438.50 333.93,437.05 334.20,437.68 334.46,438.93 334.73,437.59 335.00,437.13 335.27,439.63 335.54,442.26 335.81,442.86 336.08,449.59 336.34,446.30 336.61,448.15 336.88,449.41 337.15,447.19 337.42,447.69 337.69,451.18 337.95,447.33 338.22,442.79 338.49,446.96 338.76,450.35 339.03,447.53 339.30,446.95 339.57,450.81 339.83,447.88 340.10,452.57 340.37,443.28 340.64,445.37 340.91,445.86 341.18,451.28 341.44,450.69 341.71,450.91 341.98,456.13 342.25,459.65 342.52,481.42 342.79,482.92 343.06,495.98 343.32,491.57 343.59,497.57 343.86,479.85 344.13,488.78 344.40,459.74 344.67,469.28 344.93,528.47 345.20,472.19 345.47,464.63 345.74,471.91 346.01,460.78 346.28,489.38 346.55,472.10 346.81,474.69 347.08,472.72 347.35,478.85 347.62,465.26 347.89,469.76 348.16,454.60 348.42,460.92 348.69,452.71 348.96,454.60 349.23,453.87 349.50,450.41 349.77,451.33 350.03,453.97 350.30,451.89 350.57,455.78 350.84,448.84 351.11,448.04 351.38,453.77 351.65,453.36 351.91,454.45 352.18,474.76 352.45,456.33 352.72,457.31 352.99,458.02 353.26,483.26 353.52,469.12 353.79,455.31 354.06,450.89 354.33,450.55 354.60,450.32 354.87,450.83 355.14,450.85 355.40,448.84 355.67,447.19 355.94,451.77 356.21,455.11 356.48,480.86 356.75,465.46 357.01,455.20 357.28,457.13 357.55,452.74 357.82,455.60 358.09,452.35 358.36,454.29 358.63,457.87 358.89,460.71 359.16,454.46 359.43,453.41 359.70,454.00 359.97,457.39 360.24,456.42 360.50,463.34 360.77,457.54 361.04,458.03 361.31,456.87 361.58,453.99 361.85,462.26 362.12,461.31 362.38,458.30 362.65,455.18 362.92,457.37 363.19,456.68 363.46,460.39 363.73,468.43 363.99,473.26 364.26,481.80 364.53,493.49 364.80,516.03 365.07,503.58 365.34,543.30 365.61,497.36 365.87,531.01 366.14,514.66 366.41,509.42 366.68,472.42 366.95,478.67 367.22,488.29 367.48,520.63 367.75,517.22 368.02,504.64 368.29,523.42 368.56,512.86 368.83,507.71 369.09,522.01 369.36,522.27 369.63,509.64 369.90,533.98 370.17,496.82 370.44,529.74 370.71,494.32 370.97,492.83 371.24,483.91 371.51,503.07 371.78,492.13 372.05,497.50 372.32,499.80 372.58,501.57 372.85,480.88 373.12,528.82 373.39,538.05 373.66,567.17 373.93,572.70 374.20,599.39 374.46,612.32 374.73,638.32 375.00,611.58 375.27,633.84 375.54,633.30 375.81,623.93 376.07,574.35 376.34,556.09 376.61,580.85 376.88,572.42 377.15,604.10 377.42,602.16 377.69,581.37 377.95,624.99 378.22,580.42 378.49,604.74 378.76,549.30 379.03,636.79 379.30,551.60 379.56,605.78 379.83,586.75 380.10,566.27 380.37,587.21 380.64,590.39 380.91,604.95 381.18,556.42 381.44,578.46 381.71,566.42 381.98,555.98 382.25,560.80 382.52,544.54 382.79,556.26 383.05,544.59 383.32,544.70 383.59,544.64 383.86,506.27 384.13,497.37 384.40,510.35 384.66,489.92 384.93,496.41 385.20,517.03 385.47,524.90 385.74,520.97 386.01,525.41 386.28,508.07 386.54,513.94 386.81,507.84 387.08,516.29 387.35,488.02 387.62,493.27 387.89,499.17 388.15,481.23 388.42,493.74 388.69,477.31 388.96,480.09 389.23,481.09 389.50,477.17 389.77,481.31 390.03,475.53 390.30,475.99 390.57,479.37 390.84,474.76 391.11,475.18 391.38,475.72 391.64,477.93 391.91,477.94 392.18,477.82 392.45,478.46 392.72,475.85 392.99,479.95 393.26,478.08 393.52,480.82 393.79,491.77 394.06,483.30 394.33,479.08 394.60,479.04 394.87,480.75 395.13,480.69 395.40,479.53 395.67,480.39 395.94,480.52 396.21,479.49 396.48,482.66 396.75,481.61 397.01,483.55 397.28,480.40 397.55,487.09 397.82,484.14 398.09,483.17 398.36,486.25 398.62,484.59 398.89,485.60 399.16,483.53 399.43,483.64 399.70,484.35 399.97,483.93 400.24,485.81 400.50,484.45 400.77,485.12 401.04,484.78 401.31,487.82 401.58,486.51 401.85,485.71 402.11,485.60 402.38,487.35 402.65,488.06 402.92,486.59 403.19,487.69 403.46,487.47 403.72,487.21 403.99,488.90 404.26,487.86 404.53,488.73 404.80,493.39 405.07,490.46 405.34,488.65 405.60,489.52 405.87,490.55 406.14,490.19 406.41,491.13 406.68,491.51 406.95,492.10 407.21,491.34 407.48,491.73 407.75,491.99 408.02,493.69 408.29,499.01 408.56,493.99 408.83,497.96 409.09,494.52 409.36,497.26 409.63,494.36 409.90,494.98 410.17,498.23 410.44,497.13 410.70,497.20 410.97,506.51 411.24,501.06 411.51,497.48 411.78,497.65 412.05,500.85 412.32,495.54 412.58,503.67 412.85,497.15 413.12,499.93 413.39,500.07 413.66,499.50 413.93,501.45 414.19,506.02 414.46,503.42 414.73,500.71 415.00,506.16 415.27,501.75 415.54,512.86 415.81,509.05 416.07,501.28 416.34,505.14 416.61,511.77 416.88,502.15 417.15,504.08 417.42,524.45 417.68,515.94 417.95,521.24 418.22,526.16 418.49,504.06 418.76,525.96 419.03,524.42 419.30,530.66 419.56,527.24 419.83,535.40 420.10,535.96 420.37,535.46 420.64,523.90 420.91,555.79 421.17,530.52 421.44,550.31 421.71,551.04 421.98,531.30 422.25,574.97 422.52,550.46 422.78,593.62 423.05,584.16 423.32,599.05 423.59,613.55 423.86,650.21 424.13,608.57 424.40,640.01 424.66,631.29 424.93,617.95 425.20,649.47 425.47,635.33 425.74,641.21 426.01,630.36 426.27,658.55 426.54,626.33 426.81,674.30 427.08,674.30 427.35,674.30 427.62,674.30 427.89,674.30 428.15,674.30 428.42,674.30 428.69,674.30 428.96,674.30 429.23,674.30 429.50,674.30 429.76,674.30 430.03,674.30 430.30,674.30 430.57,674.30 430.84,674.30 431.11,674.30 431.38,674.30 431.64,674.30 431.91,674.30 432.18,674.30 432.45,674.30 432.72,674.30 432.99,674.30 433.25,674.30 433.52,674.30 433.79,674.30 434.06,674.30 434.33,674.30 434.60,674.30 434.87,674.30 435.13,674.30 435.40,674.30 435.67,674.30 435.94,674.30 436.21,674.30 436.48,674.30 436.74,674.30 437.01,674.30 437.28,674.30 437.55,674.30 437.82,674.30 438.09,674.30 438.35,674.30 438.62,674.30 438.89,674.30 439.16,674.30 439.43,674.30 439.70,674.30 439.97,674.30 440.23,674.30 440.50,674.30 440.77,674.30 441.04,674.30 441.31,674.30 441.58,674.30 441.84,674.30 442.11,674.30 442.38,674.30 442.65,674.30 442.92,674.30 443.19,674.30 443.46,674.30 443.72,674.30 443.99,674.30 444.26,674.30 444.53,674.30 444.80,674.30 445.07,674.30 445.33,674.30 445.60,674.30 445.87,674.30 446.14,674.30 446.41,674.30 446.68,674.30 446.95,674.30 447.21,674.30 447.48,674.30 447.75,674.30 448.02,674.30 448.29,674.30 448.56,674.30 448.82,674.30 449.09,674.30 449.36,674.30 449.63,674.30 449.90,674.30 450.17,674.30 450.44,674.30 450.70,674.30 450.97,674.30 451.24,674.30 451.51,674.30 451.78,674.30 452.05,674.30 452.31,674.30 452.58,674.30 452.85,674.30 453.12,674.30 453.39,674.30 453.66,674.30 453.93,674.30 454.19,674.30 454.46,674.30 454.73,674.30 455.00,674.30 455.27,674.30 455.54,674.30 455.80,674.30 456.07,674.30 456.34,674.30 456.61,674.30 456.88,674.30 457.15,674.30 457.41,674.30 457.68,674.30 457.95,674.30 458.22,674.30 458.49,674.30 458.76,674.30 459.03,674.30 459.29,674.30 459.56,674.30 459.83,674.30 460.10,674.30 460.37,674.30 460.64,674.30 460.90,674.30 461.17,674.30 461.44,674.30 461.71,674.30 461.98,674.30 462.25,674.30 462.52,674.30 462.78,674.30 463.05,674.30 463.32,674.30 463.59,674.30 463.86,674.30 464.13,674.30 464.39,674.30 464.66,674.30 464.93,674.30 465.20,674.30 465.47,674.30 465.74,674.30 466.01,674.30 466.27,674.30 466.54,674.30 466.81,674.30 467.08,674.30 467.35,674.30 467.62,674.30 467.88,674.30 468.15,674.30 468.42,674.30 468.69,674.30 468.96,674.30 469.23,674.30 469.50,674.30 469.76,674.30 470.03,674.30 470.30,674.30 470.57,674.30 470.84,674.30 471.11,674.30 471.37,674.30 471.64,674.30 471.91,674.30 472.18,674.30 472.45,674.30 472.72,674.30 472.99,674.30 473.25,674.30 473.52,674.30 473.79,674.30 474.06,674.30 474.33,674.30 474.60,674.30 474.86,674.30 475.13,674.30 475.40,674.30 475.67,674.30 475.94,674.30 476.21,674.30 476.47,674.30 476.74,674.30 477.01,674.30 477.28,674.30 477.55,674.30 477.82,674.30 478.09,674.30 478.35,674.30 478.62,674.30 478.89,674.30 479.16,674.30 479.43,674.30 479.70,674.30 479.96,674.30 480.23,674.30 480.50,674.30 480.77,674.30 481.04,674.30 481.31,674.30 481.58,674.30 481.84,674.30 482.11,674.30 482.38,674.30 482.65,674.30 482.92,674.30 483.19,674.30 483.45,674.30 483.72,674.30 483.99,674.30 484.26,674.30 484.53,674.30 484.80,674.30 485.07,674.30 485.33,674.30 485.60,674.30 485.87,674.30 486.14,674.30 486.41,674.30 486.68,674.30 486.94,674.30 487.21,674.30 487.48,674.30 487.75,674.30 488.02,674.30 488.29,674.30 488.56,674.30 488.82,674.30 489.09,674.30 489.36,674.30 489.63,674.30 489.90,674.30 490.17,674.30 490.43,674.30 490.70,674.30 490.97,674.30 491.24,674.30 491.51,674.30 491.78,674.30 492.04,674.30 492.31,674.30 492.58,674.30 492.85,674.30 493.12,674.30 493.39,674.30 493.66,674.30 493.92,674.30 494.19,674.30 494.46,674.30 494.73,674.30 495.00,674.30 495.27,674.30 495.53,674.30 495.80,674.30 496.07,674.30 496.34,674.30 496.61,674.30 496.88,674.30 497.15,674.30 497.41,674.30 497.68,674.30 497.95,674.30 498.22,674.30 498.49,674.30 498.76,674.30 499.02,674.30 499.29,674.30 499.56,674.30 499.83,674.30 500.10,674.30 500.37,674.30 500.64,674.30 500.90,674.30 501.17,674.30 501.44,674.30 501.71,674.30 501.98,674.30 502.25,674.30 502.51,674.30 502.78,674.30 503.05,674.30 503.32,674.30 503.59,674.30 503.86,674.30 504.13,674.30 504.39,674.30 504.66,674.30 504.93,674.30 505.20,674.30 505.47,674.30 505.74,674.30 506.00,674.30 506.27,674.30 506.54,674.30 506.81,674.30 507.08,674.30 507.35,674.30 507.62,674.30 507.88,674.30 508.15,674.30 508.42,674.30 508.69,674.30 508.96,674.30 509.23,674.30 509.49,674.30 509.76,674.30 510.03,674.30 510.30,674.30 510.57,674.30 510.84,674.30 511.10,674.30 511.37,674.30 511.64,674.30 511.91,674.30 512.18,674.30 512.45,674.30 512.72,674.30 512.98,674.30 513.25,674.30 513.52,674.30 513.79,674.30 514.06,674.30 514.33,674.30 514.59,674.30 514.86,674.30 515.13,674.30 515.40,674.30 515.67,674.30 515.94,674.30 516.21,674.30 516.47,674.30 516.74,674.30 517.01,674.30 517.28,674.30 517.55,674.30 517.82,674.30 518.08,674.30 518.35,674.30 518.62,674.30 518.89,674.30 519.16,674.30 519.43,674.30 519.70,674.30 519.96,674.30 520.23,674.30 520.50,674.30 520.77,674.30 521.04,674.30 521.31,674.30 521.57,674.30 521.84,674.30 522.11,674.30 522.38,674.30 522.65,674.30 522.92,674.30 523.19,674.30 523.45,674.30 523.72,674.30 523.99,674.30 524.26,674.30 524.53,674.30 524.80,674.30 525.06,674.30 525.33,674.30 525.60,674.30 525.87,674.30 526.14,674.30 526.41,674.30 526.67,674.30 526.94,674.30 527.21,674.30 527.48,674.30 527.75,674.30 528.02,674.30 528.29,674.30 528.55,674.30 528.82,674.30 529.09,674.30 529.36,674.30 529.63,674.30 529.90,674.30 530.16,674.30 530.43,674.30 530.70,674.30 530.97,674.30 531.24,674.30 531.51,674.30 531.78,674.30 532.04,674.30 532.31,674.30 532.58,674.30 532.85,674.30 533.12,674.30 533.39,674.30 533.65,674.30 533.92,674.30 534.19,674.30 534.46,674.30 534.73,674.30 535.00,674.30 535.27,674.30 535.53,674.30 535.80,674.30 536.07,674.30 536.34,674.30 536.61,674.30 536.88,674.30 537.14,674.30 537.41,674.30 537.68,674.30 537.95,674.30 538.22,674.30 538.49,674.30 538.76,674.30 539.02,674.30 539.29,674.30 539.56,674.30 539.83,674.30 540.10,674.30 540.37,674.30 540.63,674.30 540.90,674.30 541.17,674.30 541.44,674.30 541.71,674.30 541.98,674.30 542.25,674.30 542.51,674.30 542.78,674.30 543.05,674.30 543.32,674.30 543.59,674.30 543.86,674.30 544.12,674.30 544.39,674.30 544.66,674.30 544.93,674.30 545.20,674.30 545.47,674.30 545.73,674.30 546.00,674.30 546.27,674.30 546.54,674.30 546.81,674.30 547.08,674.30 547.35,674.30 547.61,674.30 547.88,674.30 548.15,674.30 548.42,674.30 548.69,674.30 548.96,674.30 549.22,674.30 549.49,674.30 549.76,674.30 550.03,674.30 550.30,674.30 550.57,674.30 550.84,674.30 551.10,674.30 551.37,674.30 551.64,674.30 551.91,674.30 552.18,674.30 552.45,674.30 552.71,674.30 552.98,674.30 553.25,674.30 553.52,674.30 553.79,674.30 554.06,674.30 554.33,674.30 554.59,674.30 554.86,674.30 555.13,674.30 555.40,674.30 555.67,674.30 555.94,674.30 556.20,674.30 556.47,674.30 556.74,674.30 557.01,674.30 557.28,674.30 557.55,674.30 557.82,674.30 558.08,674.30 558.35,674.30 558.62,674.30 558.89,674.30 559.16,674.30 559.43,674.30 559.69,674.30 559.96,674.30 560.23,674.30 560.50,674.30 560.77,674.30 561.04,674.30 561.31,674.30 561.57,674.30 561.84,674.30 562.11,674.30 562.38,674.30 562.65,674.30 562.92,674.30 563.18,674.30 563.45,674.30 563.72,674.30 563.99,674.30 564.26,674.30 564.53,674.30 564.79,674.30 565.06,674.30 565.33,674.30 565.60,674.30 565.87,674.30 566.14,674.30 566.41,674.30 566.67,674.30 566.94,674.30 567.21,674.30 567.48,674.30 567.75,674.30 568.02,674.30 568.28,674.30 568.55,674.30 568.82,674.30 569.09,674.30 569.36,674.30 569.63,674.30 569.90,674.30 570.16,674.30 570.43,674.30 570.70,674.30 570.97,674.30 571.24,674.30 571.51,674.30 571.77,674.30 572.04,674.30 572.31,674.30 572.58,674.30 572.85,674.30 573.12,674.30 573.39,674.30 573.65,674.30 573.92,674.30 574.19,674.30 574.46,674.30 574.73,674.30 575.00,674.30 575.26,674.30 575.53,674.30 575.80,674.30 576.07,674.30 576.34,674.30 576.61,674.30 576.88,674.30 577.14,674.30 577.41,674.30 577.68,674.30 577.95,674.30 578.22,674.30 578.49,674.30 578.75,674.30 579.02,674.30 579.29,674.30 579.56,674.30 579.83,674.30 580.10,674.30 580.37,674.30 580.90,674.30 581.71,674.30 583.05,674.30 584.39,674.30 585.73,674.30 587.08,674.30 588.42,674.30 589.76,674.30 591.10,674.30 592.45,674.30 593.79,674.30 595.13,674.30 596.47,674.30 597.81,674.30 599.16,674.30 600.50,674.30 601.84,674.30 603.18,674.30 604.53,674.30 605.87,674.30 607.21,674.30 608.55,674.30 609.89,674.30 611.24,674.30 612.58,674.30 613.92,674.30 615.26,674.30 616.61,674.30 617.95,674.30 619.29,674.30 620.63,674.30 621.97,674.30 623.32,674.30 624.66,674.30 626.00,674.30 627.34,674.30 628.69,674.30 630.03,674.30 631.37,674.30 632.71,674.30 634.06,674.30 635.40,674.30 636.74,674.30 638.08,674.30 639.42,674.30 640.77,674.30 642.11,674.30 643.45,674.30 644.79,674.30 646.14,674.30 647.48,674.30 648.82,674.30 650.16,674.30 651.50,674.30 652.85,674.30 654.19,674.30 655.53,674.30 656.87,674.30 658.22,674.30 659.56,674.30 660.90,674.30 662.24,674.30 663.58,674.30 664.93,674.30 666.27,674.30 667.61,674.30 668.95,674.30 670.30,674.30 671.64,674.30 672.98,674.30 674.32,674.30 675.66,674.30 677.01,674.30 678.35,674.30 679.69,674.30 681.03,674.30 682.38,674.30 683.72,674.30 685.06,674.30 686.40,674.30 687.75,674.30 689.09,674.30 690.43,674.30 691.77,674.30 693.11,674.30 694.46,674.30 695.80,674.30 697.14,674.30 698.48,674.30 699.83,674.30 701.17,674.30 702.51,674.30 703.85,674.30 705.19,674.30 706.54,674.30 707.88,674.30 709.22,674.30 710.56,674.30 711.91,674.30 713.25,674.30 714.59,674.30 715.93,674.30 717.27,674.30 718.62,674.30 719.96,674.30 721.30,674.30 722.64,674.30 723.99,674.30 725.33,674.30 726.67,674.30 728.01,674.30 729.35,674.30 730.70,674.30 732.04,674.30 733.38,674.30 734.72,674.30 736.07,674.30 737.41,674.30 738.75,674.30 740.09,674.30 741.44,674.30 742.78,674.30 744.12,674.30 745.46,674.30 746.80,674.30 748.15,674.30 749.49,674.30 750.83,674.30 752.17,674.30 753.52,674.30 754.86,674.30 756.20,674.30 757.54,674.30 758.88,674.30 760.23,674.30 761.57,674.30 762.91,674.30 764.25,674.30 765.60,674.30 766.94,674.30 768.28,674.30 769.62,674.30 770.96,674.30 772.31,674.30 773.65,674.30 774.99,674.30 776.33,674.30 777.68,674.30 779.02,674.30 780.36,674.30 781.70,674.30 783.04,674.30 784.39,674.30 785.73,674.30 787.07,674.30 788.41,674.30 789.76,674.30 791.10,674.30 792.44,674.30 793.78,674.30 795.12,674.30 796.47,674.30 797.81,674.30 799.15,674.30 800.49,674.30 801.84,674.30 803.18,674.30 804.52,674.30 805.86,674.30 807.21,674.30 808.55,674.30 809.89,674.30 811.23,674.30 812.57,674.30 813.92,674.30 815.26,674.30 816.60,674.30 817.94,674.30 819.29,674.30 820.63,674.30 821.97,674.30 823.31,674.30 824.65,674.30 826.00,674.30 827.34,674.30 828.68,674.30 830.02,674.30 831.37,674.30 832.71,674.30 834.05,674.30 835.39,674.30 836.73,674.30 838.08,674.30 839.42,674.30 840.76,674.30 842.10,674.30 843.45,674.30 844.79,674.30 846.13,674.30 847.47,674.30 848.82,674.30 850.16,674.30 851.50,674.30 852.84,674.30 854.18,674.30 855.53,674.30 856.87,674.30 858.21,674.30 859.55,674.30 860.90,674.30 862.24,674.30 863.58,674.30 864.92,674.30 866.26,674.30 867.61,674.30 868.95,674.30 870.29,674.30 871.63,674.30 872.98,674.30 874.32,674.30 875.66,674.30 877.00,674.30 878.34,674.30 879.69,674.30 881.03,674.30 882.37,674.30 883.71,674.30 885.06,674.30 886.40,674.30 887.74,674.30 889.08,674.30 890.42,674.30 891.77,674.30 893.11,674.30 894.45,674.30 895.79,674.30 897.14,674.30 898.48,674.30 899.82,674.30 901.16,674.30 902.51,674.30 903.85,674.30 905.19,674.30 906.53,674.30 907.87,674.30 909.22,674.30 910.56,674.30 911.90,674.30 913.24,674.30 914.59,674.30 915.93,674.30 917.27,674.30 918.61,674.30 919.95,674.30 921.30,674.30 922.64,674.30 923.98,674.30 925.32,674.30 926.67,674.30 928.01,674.30 929.35,674.30" fill="none" stroke="#800000" stroke-width="2.6" stroke-dasharray="5 5"/>
<polyline points="199.17,150.54 207.09,150.54 207.22,216.01 219.03,216.01 219.17,281.48 234.87,281.48 235.14,346.95 256.88,346.95 257.15,412.42 290.17,412.42 290.44,477.89 345.74,477.89 346.01,543.36 456.61,543.36 456.88,608.83 788.41,608.83 789.76,674.30 915.93,674.30" fill="none" stroke="#800080" stroke-width="3.5"/>
<g font-weight="bold" fill="#000" stroke="#fff" stroke-width="0.3">
<g font-size="28"><text transform="translate(109.0,682.4) scale(1,1.08)" text-anchor="end">0.0</text><text transform="translate(109.0,600.6) scale(1,1.08)" text-anchor="end">0.2</text><text transform="translate(109.0,518.7) scale(1,1.08)" text-anchor="end">0.4</text><text transform="translate(109.0,436.9) scale(1,1.08)" text-anchor="end">0.6</text><text transform="translate(109.0,355.0) scale(1,1.08)" text-anchor="end">0.8</text><text transform="translate(109.0,273.2) scale(1,1.08)" text-anchor="end">1.0</text><text transform="translate(109.0,191.4) scale(1,1.08)" text-anchor="end">1.2</text><text transform="translate(109.0,109.5) scale(1,1.08)" text-anchor="end">1.4</text><text transform="translate(109.0,27.7) scale(1,1.08)" text-anchor="end">1.6</text><text transform="translate(943.0,682.1) scale(1,1.08)" text-anchor="start">0</text><text transform="translate(943.0,551.2) scale(1,1.08)" text-anchor="start">2</text><text transform="translate(943.0,420.2) scale(1,1.08)" text-anchor="start">4</text><text transform="translate(943.0,289.3) scale(1,1.08)" text-anchor="start">6</text><text transform="translate(943.0,158.3) scale(1,1.08)" text-anchor="start">8</text><text transform="translate(943.0,27.4) scale(1,1.08)" text-anchor="start">10</text><text transform="translate(124.0,712.9) scale(1,1.08)" text-anchor="middle">0</text><text transform="translate(258.2,712.9) scale(1,1.08)" text-anchor="middle">500</text><text transform="translate(392.5,712.9) scale(1,1.08)" text-anchor="middle">1000</text><text transform="translate(526.7,712.9) scale(1,1.08)" text-anchor="middle">1500</text><text transform="translate(660.9,712.9) scale(1,1.08)" text-anchor="middle">2000</text><text transform="translate(795.1,712.9) scale(1,1.08)" text-anchor="middle">2500</text><text transform="translate(929.4,712.9) scale(1,1.08)" text-anchor="middle">3000</text></g>
<text transform="translate(399,771) scale(0.9656,1)" font-size="33">Wavelength (nm)</text>
<text transform="translate(37.8,576.7) rotate(-90) scale(1.0316,1)" font-size="33">Energy flux density (kW/m<tspan dy="-16.5" font-size="21">2</tspan><tspan dy="16.5">/nm)</tspan></text>
<text transform="translate(1014.5,653.3) rotate(-90) scale(1.105,1)" font-size="33">Carrier multiplication factor <tspan font-style="italic">Nmce</tspan> (-)</text>
</g>
<g font-size="31.3" fill="#000" stroke="#000" stroke-width="0.35">
<text x="439.8" y="96.2">1000suns, AM1.5D solar irradiation</text>
<text x="438.8" y="135.2">Solar cell, MCE, Eg=0.5eV</text>
<text x="438.8" y="175.2">Solar cell, w/o MCE, Eg=1.1eV</text>
<text x="436" y="218.8" font-size="30.8" font-style="italic">Nmce</text>
</g>
<line x1="352" y1="85.8" x2="431.5" y2="85.8" stroke="#555" stroke-width="1.3"/>
<line x1="353" y1="125.3" x2="421" y2="125.3" stroke="#ff0000" stroke-width="2.8" stroke-dasharray="2.8 10.2"/>
<line x1="353" y1="164.3" x2="428" y2="164.3" stroke="#800000" stroke-width="2.8" stroke-dasharray="5 5"/>
<line x1="350" y1="209.2" x2="428" y2="209.2" stroke="#800080" stroke-width="3.5"/>
<line x1="342.9" y1="86.3" x2="296.9" y2="103.6" stroke="#111" stroke-width="1.4"/><path d="M289.40 106.40L297.81 100.36L299.71 105.41Z" fill="#111"/><line x1="345.6" y1="124.7" x2="269.2" y2="278.4" stroke="#ff0000" stroke-width="1.3"/><path d="M264.30 288.20L267.76 275.40L272.42 277.72Z" fill="#ff0000"/><line x1="349.8" y1="166.8" x2="275.7" y2="435.2" stroke="#800000" stroke-width="1.3"/><path d="M272.80 445.80L273.75 432.58L278.76 433.96Z" fill="#800000"/>
<g><path transform="translate(109.0,273.2) scale(1,1.08)" d="M-38.35 -3.92H-32.31V0.84H-38.35ZM-28.64 -3.92H-22.95V0.84H-28.64Z" fill="#fff"/><path transform="translate(109.0,191.4) scale(1,1.08)" d="M-38.35 -3.92H-32.31V0.84H-38.35ZM-28.64 -3.92H-22.95V0.84H-28.64Z" fill="#fff"/><path transform="translate(109.0,109.5) scale(1,1.08)" d="M-38.35 -3.92H-32.31V0.84H-38.35ZM-28.64 -3.92H-22.95V0.84H-28.64Z" fill="#fff"/><path transform="translate(109.0,27.7) scale(1,1.08)" d="M-38.35 -3.92H-32.31V0.84H-38.35ZM-28.64 -3.92H-22.95V0.84H-28.64Z" fill="#fff"/><path transform="translate(943.0,27.4) scale(1,1.08)" d="M0.56 -3.92H6.61V0.84H0.56ZM10.28 -3.92H15.96V0.84H10.28Z" fill="#fff"/><path transform="translate(392.5,712.9) scale(1,1.08)" d="M-30.57 -3.92H-24.52V0.84H-30.57ZM-20.85 -3.92H-15.17V0.84H-20.85Z" fill="#fff"/><path transform="translate(526.7,712.9) scale(1,1.08)" d="M-30.57 -3.92H-24.52V0.84H-30.57ZM-20.85 -3.92H-15.17V0.84H-20.85Z" fill="#fff"/><path d="M440.74 92.44H447.72V97.14H440.74ZM450.35 92.44H457.01V97.14H450.35Z" fill="#fff"/><path d="M639.07 92.44H646.05V97.14H639.07ZM648.68 92.44H655.34V97.14H648.68Z" fill="#fff"/><path d="M786.74 171.44H793.72V176.14H786.74ZM796.35 171.44H803.01V176.14H796.35Z" fill="#fff"/><path d="M812.83 171.44H819.81V176.14H812.83ZM822.44 171.44H829.11V176.14H822.44Z" fill="#fff"/></g>
</svg>
</body></html>
